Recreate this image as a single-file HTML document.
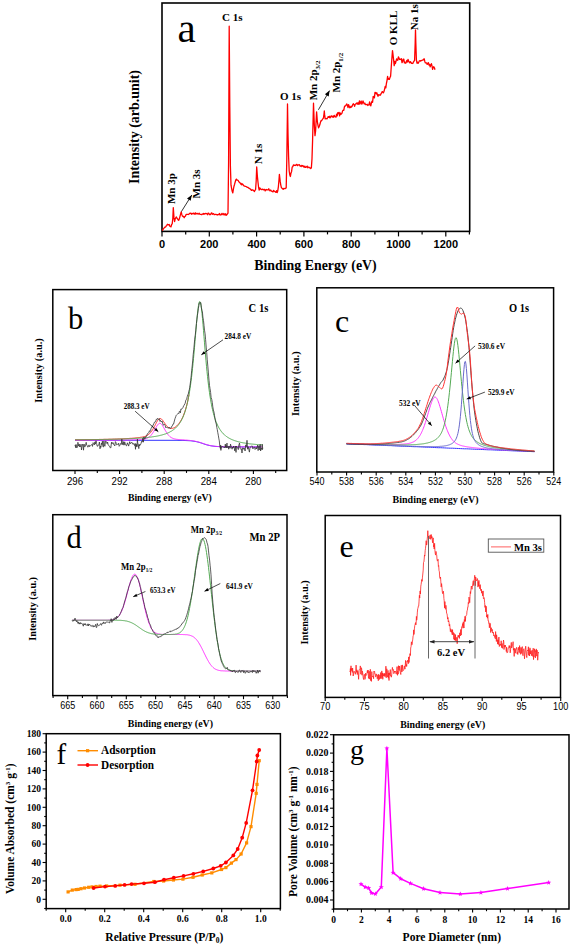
<!DOCTYPE html>
<html><head><meta charset="utf-8"><style>
html,body{margin:0;padding:0;background:#fff;width:572px;height:946px;overflow:hidden}
svg{display:block}
</style></head><body>
<svg width="572" height="946" viewBox="0 0 572 946">
<rect width="572" height="946" fill="#fff"/>
<rect x="162" y="3" width="307.7" height="228.4" fill="none" stroke="#000" stroke-width="1.6"/>
<line x1="162" y1="231.4" x2="162" y2="236.4" stroke="#000" stroke-width="1.2" />
<line x1="209.3" y1="231.4" x2="209.3" y2="236.4" stroke="#000" stroke-width="1.2" />
<line x1="256.6" y1="231.4" x2="256.6" y2="236.4" stroke="#000" stroke-width="1.2" />
<line x1="303.9" y1="231.4" x2="303.9" y2="236.4" stroke="#000" stroke-width="1.2" />
<line x1="351.2" y1="231.4" x2="351.2" y2="236.4" stroke="#000" stroke-width="1.2" />
<line x1="398.5" y1="231.4" x2="398.5" y2="236.4" stroke="#000" stroke-width="1.2" />
<line x1="445.8" y1="231.4" x2="445.8" y2="236.4" stroke="#000" stroke-width="1.2" />
<line x1="185.7" y1="231.4" x2="185.7" y2="234.4" stroke="#000" stroke-width="1.2" />
<line x1="232.9" y1="231.4" x2="232.9" y2="234.4" stroke="#000" stroke-width="1.2" />
<line x1="280.2" y1="231.4" x2="280.2" y2="234.4" stroke="#000" stroke-width="1.2" />
<line x1="327.5" y1="231.4" x2="327.5" y2="234.4" stroke="#000" stroke-width="1.2" />
<line x1="374.9" y1="231.4" x2="374.9" y2="234.4" stroke="#000" stroke-width="1.2" />
<line x1="422.1" y1="231.4" x2="422.1" y2="234.4" stroke="#000" stroke-width="1.2" />
<line x1="469.4" y1="231.4" x2="469.4" y2="234.4" stroke="#000" stroke-width="1.2" />
<text x="162" y="248" font-family='"Liberation Sans", sans-serif' font-size="11" font-weight="bold" text-anchor="middle" fill="#000" >0</text>
<text x="209.3" y="248" font-family='"Liberation Sans", sans-serif' font-size="11" font-weight="bold" text-anchor="middle" fill="#000" >200</text>
<text x="256.6" y="248" font-family='"Liberation Sans", sans-serif' font-size="11" font-weight="bold" text-anchor="middle" fill="#000" >400</text>
<text x="303.9" y="248" font-family='"Liberation Sans", sans-serif' font-size="11" font-weight="bold" text-anchor="middle" fill="#000" >600</text>
<text x="351.2" y="248" font-family='"Liberation Sans", sans-serif' font-size="11" font-weight="bold" text-anchor="middle" fill="#000" >800</text>
<text x="398.5" y="248" font-family='"Liberation Sans", sans-serif' font-size="11" font-weight="bold" text-anchor="middle" fill="#000" >1000</text>
<text x="445.8" y="248" font-family='"Liberation Sans", sans-serif' font-size="11" font-weight="bold" text-anchor="middle" fill="#000" >1200</text>
<text x="254.2" y="270" font-family='"Liberation Serif", serif' font-size="14" font-weight="bold" text-anchor="start" fill="#000" textLength="122.5" lengthAdjust="spacingAndGlyphs" >Binding Energy (eV)</text>
<text transform="translate(139.2,184) rotate(-90)" font-family='"Liberation Serif", serif' font-size="14" font-weight="bold" text-anchor="start" fill="#000" textLength="114" lengthAdjust="spacingAndGlyphs" >Intensity (arb.unit)</text>
<text x="177.6" y="41.6" font-family='"Liberation Serif", serif' font-size="41" font-weight="normal" text-anchor="start" fill="#000" >a</text>
<polyline points="162,230.3 162.6,230.1 163.2,229.1 163.8,228.5 164.4,227.5 165,227.1 165.6,227 166.2,225.9 166.8,225.4 167.4,224.3 168,224.6 168.6,224.9 169.2,224.5 169.8,226.2 170.4,226.5 171,226.9 171.6,224.5 172.2,223.9 172.8,218.6 173.3,207.6 173.4,209.1 174,217.9 174.6,221.5 175.2,218.9 175.8,217.7 176.4,217 177,218.3 177.6,218.9 178.2,220 178.8,220.3 179.4,218.6 180,216.3 180.6,214.1 181.2,211.9 181.2,211.9 181.8,214.4 182.4,216.1 183,216.6 183.6,216.4 184.2,217.7 184.8,216.5 185.4,216.2 186,214.7 186.6,214.4 187.2,214.4 187.8,214.3 188.4,214.5 189,214.1 189.6,213.6 190.2,213.1 190.8,213.4 191.4,214.2 192,213.3 192.6,213.8 193.2,213.9 193.8,213 194.4,213.8 195,214.4 195.6,212.8 196.2,213.6 196.8,213.8 197.4,213.4 198,214.1 198.6,213.8 199.2,213.2 199.8,214.3 200.4,214.3 201,214.4 201.6,214.7 202.2,214.2 202.8,214.1 203.4,213.4 204,214.3 204.6,213.7 205.2,213.8 205.8,213.4 206.4,213.6 207,213.8 207.6,214.7 208.2,213.1 208.8,213.4 209.4,214.2 210,214.8 210.6,214.4 211.2,213.2 211.8,212.9 212.4,214.3 213,213.8 213.6,213.6 214.2,214.7 214.8,214.7 215.4,214.3 216,214.3 216.6,214.5 217.2,215.1 217.8,214.6 218.4,214.5 219,214.6 219.6,213.5 220.2,215 220.8,214.8 221.4,214.6 222,213.4 222.6,214.1 223.2,214.8 223.8,213.5 224.4,214.3 225,215 225.6,213.8 226.2,215.3 226.8,214.8 227.4,213.9 228,213.2 228.6,161.8 229.2,26.2 229.2,26.2 229.8,106.7 230.4,166.2 231,185.2 231.6,188.4 232.2,191.3 232.8,192.9 233.4,189.1 234,186.2 234.6,184.2 235.2,182 235.8,179.9 236.4,179.1 237,180.2 237.6,180.2 238.2,180.5 238.8,181.7 239.4,182.2 240,182.7 240.6,184.1 241.2,183.4 241.8,184.9 242.4,183.9 243,184.5 243.6,185.5 244.2,186.1 244.8,186.2 245.4,186.3 246,186.5 246.6,186.8 247.2,187.4 247.8,187.3 248.4,187.9 249,188.3 249.6,188.4 250.2,189.1 250.8,189.4 251.4,190.4 252,189.9 252.6,189.9 253.2,190.2 253.8,190.7 254.4,191.5 255,190.4 255.6,189.5 256.2,180.8 256.7,167 256.8,168.4 257.4,176.6 258,182.2 258.6,187.5 259.2,190 259.8,187.8 260.4,188.6 261,189.4 261.6,189.5 262.2,189.5 262.8,189.2 263.4,189.8 264,189.7 264.6,189.4 265.2,190.9 265.8,189.9 266.4,189.5 267,189.8 267.6,189.8 268.2,190 268.8,188.8 269.4,190 270,190.9 270.6,190 271.2,190.7 271.8,191.3 272.4,191.4 273,191.9 273.6,190.4 274.2,191.2 274.8,191.4 275.4,192 276,192.4 276.6,190.6 277.2,192.6 277.8,190.7 278.4,186.6 279,179.7 279.4,174.4 279.6,176.1 280.2,181.4 280.8,185.1 281.4,187.6 282,188.2 282.6,188.9 283.2,189.3 283.8,188.5 284.4,188.5 285,188.7 285.6,188.2 286.2,188 286.8,159.5 287.4,113.2 287.5,104 288,134 288.6,156.7 289.2,171 289.8,174.8 290.4,176.5 291,172.9 291.6,171.4 292.2,167 292.8,166.7 293.4,164.9 294,165.1 294.6,165.4 295.2,165.2 295.8,165.5 296.4,164.5 297,164.5 297.6,165.6 298.2,164.9 298.8,164.9 299.4,164.7 300,166.1 300.6,166 301.2,166.5 301.8,165.4 302.4,166 303,165.6 303.6,166.7 304.2,167.2 304.8,166.1 305.4,167.4 306,167.3 306.6,166.8 307.2,166.1 307.8,167.9 308.4,167.2 309,167.1 309.6,167.8 310.2,167.9 310.8,168.6 311.4,167.4 312,158.7 312.6,140 313.2,115.5 313.5,103.2 313.8,111.4 314.4,126.5 315,135.7 315.6,131 316.2,119.5 316.6,111.8 316.8,114.4 317.4,122 318,125.4 318.6,127.8 319.2,126.4 319.8,124.8 320.4,122.5 321,120.6 321.6,120.8 322.2,119.7 322.8,118.9 323.4,118.2 324,114 324.3,111 324.6,114.4 325.2,118.9 325.8,118.7 326.4,118.5 327,118.9 327.6,117.8 328.2,116.6 328.8,117.3 329.4,116.3 330,117.9 330.6,117.1 331.2,115.9 331.8,116.3 332.4,117.1 333,116 333.6,117.2 334.2,115.4 334.8,116.5 335.4,116.9 336,117 336.6,114.2 337.2,115.9 337.8,112.7 338.4,113.5 339,112.4 339.6,115.8 340.2,113 340.8,114.3 341.4,114 342,113.1 342.6,110.9 343.2,110.2 343.8,110.4 344.4,106.8 345,105.8 345.6,105.8 346.2,104.8 346.8,104 347.4,105.2 348,107.5 348.6,104.7 349.2,106.2 349.8,107.8 350.4,107.4 351,106.3 351.6,107 352.2,106.1 352.8,104.4 353.4,103.8 354,104.6 354.6,106.3 355.2,104.4 355.8,103.8 356.4,103.8 357,102.7 357.6,104.2 358.2,102.8 358.8,104.3 359.4,101 360,103.9 360.6,102.6 361.2,101 361.8,104.1 362.4,103 363,100.9 363.6,102.5 364.2,103.9 364.8,103.1 365.4,104.6 366,104.6 366.6,104.6 367.2,104.3 367.8,105.5 368.4,104.8 369,104.7 369.6,101.8 370.2,105.3 370.8,105.9 371.4,103 372,101.1 372.6,102.3 373.2,96.4 373.8,97.3 374.4,97.9 375,92.4 375.6,92.6 376.2,93.8 376.8,92.7 377.4,94.7 378,96.3 378.6,94.6 379.2,95.1 379.8,95 380.4,95.2 381,93.7 381.6,93 382.2,91.6 382.8,91.9 383.4,92.8 384,91.4 384.6,89.1 385.2,86.5 385.8,87.9 386.4,83.5 387,80.6 387.6,76.3 388.2,79.4 388.8,78.7 389.4,79.4 390,77.4 390.6,76.2 391.2,67.7 391.8,59.5 392.4,51.9 392.5,50.6 393,54.7 393.6,59.8 394.2,65.6 394.8,61.5 395.4,63.6 396,61.4 396.6,58.9 397.2,60 397.8,60.3 398.4,56.9 399,58 399.6,59.4 400.2,59.5 400.8,59.1 401.4,58.7 402,62.6 402.6,61.6 403.2,59.2 403.8,59.2 404.4,62.9 405,62.2 405.6,63.3 406.2,62.3 406.8,60.5 407.4,62 408,59.3 408.6,61.1 409.2,62.1 409.8,62.9 410.4,61.6 411,62.4 411.6,63.3 412.2,63.3 412.8,63.5 413.4,62.1 414,61.1 414.6,60.3 415.2,42.7 415.5,29.8 415.8,42.3 416.4,60 417,63 417.6,62.3 418.2,63.3 418.8,62.1 419.4,60.8 420,60.7 420.6,61.1 421.2,60.6 421.8,60.6 422.4,60.1 423,60 423.6,59.3 424.2,58.8 424.8,61.4 425.4,62.9 426,62.9 426.6,62.9 427.2,64.4 427.8,63.2 428.4,62.6 429,65.2 429.6,64.5 430.2,66.8 430.8,65.1 431.4,63.7 432,65.9 432.6,69.3 433.2,67.4 433.8,66.7 434.4,67.8 435,69.7" fill="none" stroke="#FF0000" stroke-width="1.3" stroke-linejoin="round" />
<text x="222" y="21" font-family='"Liberation Serif", serif' font-size="11" font-weight="bold" text-anchor="start" fill="#000" >C 1s</text>
<text x="280" y="100.2" font-family='"Liberation Serif", serif' font-size="11" font-weight="bold" text-anchor="start" fill="#000" >O 1s</text>
<text transform="translate(262,164.2) rotate(-90)" font-family='"Liberation Serif", serif' font-size="11" font-weight="bold" text-anchor="start" fill="#000" >N 1s</text>
<text transform="translate(174.9,204.1) rotate(-90)" font-family='"Liberation Serif", serif' font-size="11" font-weight="bold" text-anchor="start" fill="#000" >Mn 3p</text>
<text transform="translate(200.2,198.5) rotate(-90)" font-family='"Liberation Serif", serif' font-size="11" font-weight="bold" text-anchor="start" fill="#000" >Mn 3s</text>
<text transform="translate(396.5,45.2) rotate(-90)" font-family='"Liberation Serif", serif' font-size="11" font-weight="bold" text-anchor="start" fill="#000" >O KLL</text>
<text transform="translate(417.6,30.2) rotate(-90)" font-family='"Liberation Serif", serif' font-size="11" font-weight="bold" text-anchor="start" fill="#000" >Na 1s</text>
<text transform="translate(317.3,100.3) rotate(-90)" font-family='"Liberation Serif", serif' font-size="11" font-weight="bold">Mn 2p<tspan font-size="7" dy="2.6">3/2</tspan></text>
<text transform="translate(340.4,92.5) rotate(-90)" font-family='"Liberation Serif", serif' font-size="11" font-weight="bold">Mn 2p<tspan font-size="7" dy="2.6">1/2</tspan></text>
<line x1="181.4" y1="211.6" x2="191.8" y2="195" stroke="#000" stroke-width="0.8" />
<polygon points="191.8,195 190.7,200.8 187,198.5" fill="#000"/>
<line x1="318.4" y1="109.8" x2="329.6" y2="90.6" stroke="#000" stroke-width="0.8" />
<polygon points="329.6,90.6 328.7,96.5 324.9,94.2" fill="#000"/>
<line x1="75" y1="470.5" x2="75" y2="474.1" stroke="#000" stroke-width="1.1" />
<line x1="119.6" y1="470.5" x2="119.6" y2="474.1" stroke="#000" stroke-width="1.1" />
<line x1="164.2" y1="470.5" x2="164.2" y2="474.1" stroke="#000" stroke-width="1.1" />
<line x1="208.8" y1="470.5" x2="208.8" y2="474.1" stroke="#000" stroke-width="1.1" />
<line x1="253.4" y1="470.5" x2="253.4" y2="474.1" stroke="#000" stroke-width="1.1" />
<line x1="97.3" y1="470.5" x2="97.3" y2="472.9" stroke="#000" stroke-width="1.1" />
<line x1="141.9" y1="470.5" x2="141.9" y2="472.9" stroke="#000" stroke-width="1.1" />
<line x1="186.5" y1="470.5" x2="186.5" y2="472.9" stroke="#000" stroke-width="1.1" />
<line x1="231.1" y1="470.5" x2="231.1" y2="472.9" stroke="#000" stroke-width="1.1" />
<line x1="275.7" y1="470.5" x2="275.7" y2="472.9" stroke="#000" stroke-width="1.1" />
<text x="75" y="484.5" font-family='"Liberation Sans", sans-serif' font-size="10" font-weight="normal" text-anchor="middle" fill="#000" textLength="16.2" lengthAdjust="spacingAndGlyphs" >296</text>
<text x="119.6" y="484.5" font-family='"Liberation Sans", sans-serif' font-size="10" font-weight="normal" text-anchor="middle" fill="#000" textLength="16.2" lengthAdjust="spacingAndGlyphs" >292</text>
<text x="164.2" y="484.5" font-family='"Liberation Sans", sans-serif' font-size="10" font-weight="normal" text-anchor="middle" fill="#000" textLength="16.2" lengthAdjust="spacingAndGlyphs" >288</text>
<text x="208.8" y="484.5" font-family='"Liberation Sans", sans-serif' font-size="10" font-weight="normal" text-anchor="middle" fill="#000" textLength="16.2" lengthAdjust="spacingAndGlyphs" >284</text>
<text x="253.4" y="484.5" font-family='"Liberation Sans", sans-serif' font-size="10" font-weight="normal" text-anchor="middle" fill="#000" textLength="16.2" lengthAdjust="spacingAndGlyphs" >280</text>
<text x="127.9" y="501.1" font-family='"Liberation Serif", serif' font-size="11" font-weight="bold" text-anchor="start" fill="#000" textLength="83.9" lengthAdjust="spacingAndGlyphs" >Binding energy (eV)</text>
<text transform="translate(42.2,402.8) rotate(-90)" font-family='"Liberation Serif", serif' font-size="10.5" font-weight="bold" text-anchor="start" fill="#000" textLength="64.6" lengthAdjust="spacingAndGlyphs" >Intensity (a.u.)</text>
<text x="68" y="328.6" font-family='"Liberation Serif", serif' font-size="30.5" font-weight="normal" text-anchor="start" fill="#000" >b</text>
<text x="248.6" y="312.2" font-family='"Liberation Serif", serif' font-size="12" font-weight="bold" text-anchor="start" fill="#000" textLength="19.8" lengthAdjust="spacingAndGlyphs" >C 1s</text>
<polyline points="75,440.3 77,440.3 79,440.3 81,440.3 83,440.3 85,440.3 87,440.3 89,440.3 91,440.3 93,440.3 95,440.3 97,440.3 99,440.3 101,440.3 103,440.3 105,440.3 107,440.3 109,440.3 111,440.3 113,440.3 115,440.3 117,440.3 119,440.3 121,440.3 123,440.3 125,440.3 127,440.3 129,440.3 131,440.3 133,440.3 135,440.3 137,440.3 139,440.3 141,440.3 143,440.3 145,440.3 147,440.3 149,440.3 151,440.3 153,440.3 155,440.3 157,440.3 159,440.3 161,440.3 163,440.3 165,440.3 167,440.3 169,440.3 171,440.3 173,440.3 175,440.3 177,440.3 179,440.4 181,440.4 183,440.4 185,440.5 187,440.6 189,440.7 191,440.8 193,441.1 195,441.4 197,441.8 199,442.3 201,442.9 203,443.6 205,444.3 207,444.9 209,445.4 211,445.8 213,446.1 215,446.4 217,446.5 219,446.6 221,446.7 223,446.8 225,446.8 227,446.8 229,446.9 231,446.9 233,446.9 235,446.9 237,446.9 239,446.9 241,446.9 243,446.9 245,446.9 247,446.9 249,446.9 251,446.9 253,446.9 255,446.9 257,446.9 259,446.9 261,446.9" fill="none" stroke="#3333FF" stroke-width="1.0" stroke-linejoin="round" />
<polyline points="75,440.3 75.5,440.3 76,440.3 76.5,440.3 77,440.3 77.5,440.3 78,440.3 78.5,440.3 79,440.3 79.5,440.3 80,440.3 80.5,440.3 81,440.3 81.5,440.3 82,440.3 82.5,440.2 83,440.2 83.5,440.2 84,440.2 84.5,440.2 85,440.2 85.5,440.2 86,440.2 86.5,440.2 87,440.2 87.5,440.2 88,440.2 88.5,440.2 89,440.2 89.5,440.2 90,440.2 90.5,440.2 91,440.2 91.5,440.2 92,440.2 92.5,440.2 93,440.2 93.5,440.2 94,440.2 94.5,440.2 95,440.2 95.5,440.2 96,440.2 96.5,440.2 97,440.2 97.5,440.2 98,440.2 98.5,440.2 99,440.2 99.5,440.2 100,440.2 100.5,440.2 101,440.2 101.5,440.2 102,440.2 102.5,440.2 103,440.2 103.5,440.2 104,440.2 104.5,440.2 105,440.2 105.5,440.2 106,440.2 106.5,440.2 107,440.2 107.5,440.2 108,440.2 108.5,440.2 109,440.2 109.5,440.2 110,440.2 110.5,440.2 111,440.2 111.5,440.2 112,440.2 112.5,440.2 113,440.2 113.5,440.2 114,440.2 114.5,440.2 115,440.2 115.5,440.1 116,440.1 116.5,440.1 117,440.1 117.5,440.1 118,440.1 118.5,440.1 119,440.1 119.5,440.1 120,440.1 120.5,440.1 121,440.1 121.5,440.1 122,440.1 122.5,440.1 123,440.1 123.5,440.1 124,440.1 124.5,440.1 125,440.1 125.5,440.1 126,440 126.5,440 127,440 127.5,440 128,440 128.5,440 129,440 129.5,440 130,440 130.5,440 131,440 131.5,439.9 132,439.9 132.5,439.9 133,439.9 133.5,439.9 134,439.9 134.5,439.9 135,439.8 135.5,439.8 136,439.8 136.5,439.8 137,439.8 137.5,439.7 138,439.7 138.5,439.7 139,439.7 139.5,439.6 140,439.6 140.5,439.5 141,439.5 141.5,439.5 142,439.4 142.5,439.4 143,439.3 143.5,439.2 144,439.1 144.5,439 145,438.9 145.5,438.8 146,438.6 146.5,438.5 147,438.3 147.5,438 148,437.8 148.5,437.5 149,437.1 149.5,436.8 150,436.3 150.5,435.8 151,435.3 151.5,434.7 152,434 152.5,433.3 153,432.6 153.5,431.8 154,431 154.5,430.1 155,429.2 155.5,428.3 156,427.4 156.5,426.6 157,425.8 157.5,425 158,424.4 158.5,423.9 159,423.5 159.5,423.3 160,423.3 160.5,423.5 161,423.8 161.5,424.3 162,424.9 162.5,425.6 163,426.4 163.5,427.3 164,428.1 164.5,429 165,429.9 165.5,430.8 166,431.6 166.5,432.4 167,433.2 167.5,433.9 168,434.6 168.5,435.2 169,435.7 169.5,436.2 170,436.7 170.5,437.1 171,437.4 171.5,437.7 172,438 172.5,438.2 173,438.5 173.5,438.6 174,438.8 174.5,438.9 175,439 175.5,439.1 176,439.2 176.5,439.3 177,439.4 177.5,439.4 178,439.5 178.5,439.5 179,439.6 179.5,439.6 180,439.7 180.5,439.7 181,439.8 181.5,439.8 182,439.8 182.5,439.9 183,439.9 183.5,439.9 184,440 184.5,440 185,440 185.5,440.1 186,440.1 186.5,440.1 187,440.2 187.5,440.2 188,440.2 188.5,440.3 189,440.3 189.5,440.4 190,440.4 190.5,440.5 191,440.5 191.5,440.6 192,440.7 192.5,440.7 193,440.8 193.5,440.9 194,441 194.5,441.1 195,441.2 195.5,441.3 196,441.4 196.5,441.5 197,441.6 197.5,441.7 198,441.9 198.5,442 199,442.2 199.5,442.3 200,442.5 200.5,442.6 201,442.8 201.5,442.9 202,443.1 202.5,443.3 203,443.4 203.5,443.6 204,443.8 204.5,443.9 205,444.1 205.5,444.3 206,444.4 206.5,444.6 207,444.7 207.5,444.9 208,445 208.5,445.1 209,445.2 209.5,445.4 210,445.5 210.5,445.6 211,445.7 211.5,445.8 212,445.9 212.5,445.9 213,446 213.5,446.1 214,446.1 214.5,446.2 215,446.3 215.5,446.3 216,446.3 216.5,446.4 217,446.4 217.5,446.5 218,446.5 218.5,446.5 219,446.6 219.5,446.6 220,446.6 220.5,446.6 221,446.6 221.5,446.7 222,446.7 222.5,446.7 223,446.7 223.5,446.7 224,446.7 224.5,446.7 225,446.7 225.5,446.8 226,446.8 226.5,446.8 227,446.8 227.5,446.8 228,446.8 228.5,446.8 229,446.8 229.5,446.8 230,446.8 230.5,446.8 231,446.8 231.5,446.8 232,446.8 232.5,446.8 233,446.8 233.5,446.8 234,446.8 234.5,446.8 235,446.8 235.5,446.8 236,446.8 236.5,446.8 237,446.8 237.5,446.8 238,446.8 238.5,446.8 239,446.8 239.5,446.8 240,446.8 240.5,446.9 241,446.9 241.5,446.9 242,446.9 242.5,446.9 243,446.9 243.5,446.9 244,446.9 244.5,446.9 245,446.9 245.5,446.9 246,446.9 246.5,446.9 247,446.9 247.5,446.9 248,446.9 248.5,446.9 249,446.9 249.5,446.9 250,446.9 250.5,446.9 251,446.9 251.5,446.9 252,446.9 252.5,446.9 253,446.9 253.5,446.9 254,446.9 254.5,446.9 255,446.9 255.5,446.9 256,446.9 256.5,446.9 257,446.9 257.5,446.9 258,446.9 258.5,446.9 259,446.9 259.5,446.9 260,446.9 260.5,446.9 261,446.9 261.5,446.9 262,446.9 262.5,446.9" fill="none" stroke="#FF33FF" stroke-width="1.0" stroke-linejoin="round" />
<polyline points="75,439.8 75.5,439.7 76,439.7 76.5,439.7 77,439.7 77.5,439.7 78,439.7 78.5,439.7 79,439.7 79.5,439.7 80,439.7 80.5,439.7 81,439.7 81.5,439.7 82,439.7 82.5,439.7 83,439.7 83.5,439.7 84,439.7 84.5,439.7 85,439.6 85.5,439.6 86,439.6 86.5,439.6 87,439.6 87.5,439.6 88,439.6 88.5,439.6 89,439.6 89.5,439.6 90,439.6 90.5,439.6 91,439.6 91.5,439.6 92,439.6 92.5,439.5 93,439.5 93.5,439.5 94,439.5 94.5,439.5 95,439.5 95.5,439.5 96,439.5 96.5,439.5 97,439.5 97.5,439.5 98,439.5 98.5,439.5 99,439.4 99.5,439.4 100,439.4 100.5,439.4 101,439.4 101.5,439.4 102,439.4 102.5,439.4 103,439.4 103.5,439.4 104,439.3 104.5,439.3 105,439.3 105.5,439.3 106,439.3 106.5,439.3 107,439.3 107.5,439.3 108,439.3 108.5,439.2 109,439.2 109.5,439.2 110,439.2 110.5,439.2 111,439.2 111.5,439.2 112,439.1 112.5,439.1 113,439.1 113.5,439.1 114,439.1 114.5,439.1 115,439.1 115.5,439 116,439 116.5,439 117,439 117.5,439 118,439 118.5,438.9 119,438.9 119.5,438.9 120,438.9 120.5,438.9 121,438.8 121.5,438.8 122,438.8 122.5,438.8 123,438.8 123.5,438.7 124,438.7 124.5,438.7 125,438.7 125.5,438.6 126,438.6 126.5,438.6 127,438.5 127.5,438.5 128,438.5 128.5,438.5 129,438.4 129.5,438.4 130,438.4 130.5,438.3 131,438.3 131.5,438.3 132,438.2 132.5,438.2 133,438.1 133.5,438.1 134,438.1 134.5,438 135,438 135.5,437.9 136,437.9 136.5,437.8 137,437.8 137.5,437.7 138,437.7 138.5,437.6 139,437.5 139.5,437.5 140,437.4 140.5,437.3 141,437.3 141.5,437.2 142,437.1 142.5,437 143,436.9 143.5,436.8 144,436.6 144.5,436.5 145,436.3 145.5,436.2 146,436 146.5,435.7 147,435.5 147.5,435.2 148,434.9 148.5,434.5 149,434.1 149.5,433.7 150,433.2 150.5,432.6 151,432 151.5,431.4 152,430.7 152.5,429.9 153,429.1 153.5,428.2 154,427.3 154.5,426.3 155,425.4 155.5,424.4 156,423.4 156.5,422.5 157,421.6 157.5,420.7 158,420 158.5,419.4 159,418.9 159.5,418.6 160,418.5 160.5,418.5 161,418.7 161.5,419.1 162,419.6 162.5,420.1 163,420.8 163.5,421.5 164,422.2 164.5,422.9 165,423.7 165.5,424.4 166,425 166.5,425.6 167,426.2 167.5,426.7 168,427.1 168.5,427.5 169,427.8 169.5,428.1 170,428.3 170.5,428.4 171,428.5 171.5,428.5 172,428.4 172.5,428.3 173,428.2 173.5,428 174,427.8 174.5,427.5 175,427.2 175.5,426.9 176,426.5 176.5,426.1 177,425.6 177.5,425.1 178,424.6 178.5,424 179,423.4 179.5,422.7 180,422 180.5,421.2 181,420.4 181.5,419.5 182,418.6 182.5,417.6 183,416.5 183.5,415.3 184,414 184.5,412.7 185,411.2 185.5,409.6 186,407.9 186.5,406.1 187,404.1 187.5,402 188,399.7 188.5,397.2 189,394.5" fill="none" stroke="#FF3333" stroke-width="1.0" stroke-linejoin="round" />
<polyline points="75,439.8 75.5,439.8 76,439.8 76.5,439.8 77,439.8 77.5,439.8 78,439.8 78.5,439.8 79,439.8 79.5,439.8 80,439.7 80.5,439.7 81,439.7 81.5,439.7 82,439.7 82.5,439.7 83,439.7 83.5,439.7 84,439.7 84.5,439.7 85,439.7 85.5,439.7 86,439.7 86.5,439.7 87,439.7 87.5,439.7 88,439.7 88.5,439.7 89,439.7 89.5,439.7 90,439.6 90.5,439.6 91,439.6 91.5,439.6 92,439.6 92.5,439.6 93,439.6 93.5,439.6 94,439.6 94.5,439.6 95,439.6 95.5,439.6 96,439.6 96.5,439.6 97,439.6 97.5,439.5 98,439.5 98.5,439.5 99,439.5 99.5,439.5 100,439.5 100.5,439.5 101,439.5 101.5,439.5 102,439.5 102.5,439.5 103,439.5 103.5,439.4 104,439.4 104.5,439.4 105,439.4 105.5,439.4 106,439.4 106.5,439.4 107,439.4 107.5,439.4 108,439.4 108.5,439.4 109,439.3 109.5,439.3 110,439.3 110.5,439.3 111,439.3 111.5,439.3 112,439.3 112.5,439.3 113,439.3 113.5,439.2 114,439.2 114.5,439.2 115,439.2 115.5,439.2 116,439.2 116.5,439.2 117,439.2 117.5,439.1 118,439.1 118.5,439.1 119,439.1 119.5,439.1 120,439.1 120.5,439 121,439 121.5,439 122,439 122.5,439 123,439 123.5,439 124,438.9 124.5,438.9 125,438.9 125.5,438.9 126,438.9 126.5,438.8 127,438.8 127.5,438.8 128,438.8 128.5,438.8 129,438.7 129.5,438.7 130,438.7 130.5,438.7 131,438.6 131.5,438.6 132,438.6 132.5,438.6 133,438.5 133.5,438.5 134,438.5 134.5,438.5 135,438.4 135.5,438.4 136,438.4 136.5,438.3 137,438.3 137.5,438.3 138,438.3 138.5,438.2 139,438.2 139.5,438.2 140,438.1 140.5,438.1 141,438 141.5,438 142,438 142.5,437.9 143,437.9 143.5,437.8 144,437.8 144.5,437.8 145,437.7 145.5,437.7 146,437.6 146.5,437.6 147,437.5 147.5,437.5 148,437.4 148.5,437.3 149,437.3 149.5,437.2 150,437.2 150.5,437.1 151,437 151.5,437 152,436.9 152.5,436.8 153,436.8 153.5,436.7 154,436.6 154.5,436.5 155,436.5 155.5,436.4 156,436.3 156.5,436.2 157,436.1 157.5,436 158,435.9 158.5,435.8 159,435.7 159.5,435.6 160,435.5 160.5,435.3 161,435.2 161.5,435.1 162,435 162.5,434.8 163,434.7 163.5,434.5 164,434.4 164.5,434.2 165,434 165.5,433.9 166,433.7 166.5,433.5 167,433.3 167.5,433.1 168,432.9 168.5,432.7 169,432.4 169.5,432.2 170,431.9 170.5,431.6 171,431.4 171.5,431.1 172,430.7 172.5,430.4 173,430.1 173.5,429.7 174,429.3 174.5,428.9 175,428.5 175.5,428.1 176,427.6 176.5,427.1 177,426.6 177.5,426 178,425.4 178.5,424.8 179,424.1 179.5,423.4 180,422.7 180.5,421.9 181,421 181.5,420.1 182,419.1 182.5,418.1 183,417 183.5,415.8 184,414.5 184.5,413.1 185,411.7 185.5,410.1 186,408.4 186.5,406.5 187,404.5 187.5,402.4 188,400 188.5,397.5 189,394.8 189.5,391.9 190,388.7 190.5,385.2 191,381.5 191.5,377.5 192,373.2 192.5,368.6 193,363.7 193.5,358.5 194,353 194.5,347.3 195,341.4 195.5,335.4 196,329.4 196.5,323.6 197,318.1 197.5,313.1 198,308.8 198.5,305.3 199,302.9 199.5,301.7 200,301.7 200.5,303 201,305.5 201.5,309 202,313.4 202.5,318.6 203,324.3 203.5,330.4 204,336.6 204.5,342.8 205,349 205.5,355 206,360.8 206.5,366.3 207,371.5 207.5,376.3 208,380.9 208.5,385.1 209,389.1 209.5,392.7 210,396.1 210.5,399.2 211,402.1 211.5,404.8 212,407.3 212.5,409.6 213,411.7 213.5,413.7 214,415.5 214.5,417.2 215,418.7 215.5,420.2 216,421.6 216.5,422.8 217,424 217.5,425.1 218,426.1 218.5,427.1 219,428 219.5,428.8 220,429.6 220.5,430.3 221,431 221.5,431.7 222,432.3 222.5,432.9 223,433.4 223.5,434 224,434.4 224.5,434.9 225,435.3 225.5,435.8 226,436.2 226.5,436.5 227,436.9 227.5,437.2 228,437.5 228.5,437.8 229,438.1 229.5,438.4 230,438.7 230.5,438.9 231,439.2 231.5,439.4 232,439.6 232.5,439.8 233,440 233.5,440.2 234,440.4 234.5,440.6 235,440.8 235.5,440.9 236,441.1 236.5,441.2 237,441.4 237.5,441.5 238,441.7 238.5,441.8 239,441.9 239.5,442 240,442.2 240.5,442.3 241,442.4 241.5,442.5 242,442.6 242.5,442.7 243,442.8 243.5,442.9 244,443 244.5,443 245,443.1 245.5,443.2 246,443.3 246.5,443.4 247,443.4 247.5,443.5 248,443.6 248.5,443.6 249,443.7 249.5,443.8 250,443.8 250.5,443.9 251,443.9 251.5,444 252,444 252.5,444.1 253,444.2 253.5,444.2 254,444.3 254.5,444.3 255,444.3 255.5,444.4 256,444.4 256.5,444.5 257,444.5 257.5,444.6 258,444.6 258.5,444.6 259,444.7 259.5,444.7 260,444.7 260.5,444.8 261,444.8 261.5,444.8 262,444.9 262.5,444.9" fill="none" stroke="#55AA55" stroke-width="1.0" stroke-linejoin="round" />
<polyline points="75,445.5 75.3,444.9 75.5,447.6 75.8,446 76.1,444.5 76.5,445.8 76.8,448 77.2,446.6 77.5,446.7 77.9,442.3 78.3,444.3 78.7,446.1 79.2,444 79.6,446.9 80,445.9 80.5,446.6 81,444.2 81.5,450 81.9,447.3 82.5,444.2 83,444.9 83.5,450.2 84,444 84.5,446.6 85.1,446.8 85.6,444.8 86.2,442.3 86.7,445.2 87.3,445.6 87.9,447.2 88.4,446.5 89,444.9 89.6,446.7 90.2,446 90.8,445.3 91.3,445 91.9,444.4 92.5,446.4 93.1,442.7 93.7,443.6 94.3,445 94.9,441.9 95.4,444.1 96,440.8 96.6,443.5 97.2,446.2 97.8,446.2 98.3,444.9 98.9,444.5 99.4,442 100,448.8 100.5,446.1 100.9,447.3 101.4,443.1 101.9,444.6 102.4,441.2 102.9,446.6 103.4,447 103.9,441 104.4,444.9 104.9,446.3 105.5,441.3 106,441.1 106.5,442.7 107.1,443.7 107.6,442 108.2,445 108.7,445.5 109.3,446.3 109.8,446.4 110.4,448.1 110.9,447.4 111.5,442.2 112,443.9 112.6,442.7 113.2,442.7 113.7,444.7 114.3,444.9 114.8,445.9 115.4,441.6 115.9,442.3 116.5,444.8 117,444.4 117.6,444.2 118.1,444.7 118.7,443.2 119.2,446.3 119.7,445.6 120.3,444.6 120.8,443.4 121.3,444.4 121.8,439.1 122.3,442.7 122.8,444.8 123.3,441.6 123.8,445.1 124.3,445 124.7,441.8 125.2,444.2 125.7,444 126.1,445.6 126.5,445.9 127,444.5 127.4,442.8 127.8,444.3 128.2,444.4 128.6,446.1 128.9,445.2 129.3,443 129.7,441.7 130,443.7 131,442.9 131.8,442.1 132.6,444.2 133.3,443.4 133.9,444.6 134.5,445.5 135,443.5 135.5,449.3 135.9,443.7 136.3,446.7 136.7,444.6 137.1,446.6 137.4,439.2 137.7,442.6 138.1,444.6 138.4,445.2 138.8,448.6 139.1,444.2 139.6,446 140,444.6 140.6,444.6 141.1,443.2 141.7,441.3 142.2,442.1 142.8,438.2 143.4,442.2 143.9,436.9 144.5,438.9 145,439.1 145.5,436.8 146,436.2 146.5,436.3 147,434.8 147.5,433.6 147.9,433.7 148.3,433.3 148.7,432.9 149.5,430.7 150.1,431.5 150.6,430.6 151,428.6 151.5,428 151.9,426.6 152.5,427 153,424.8 153.4,424.9 154,423.2 154.5,422.1 155,422.2 155.6,421.8 156.1,420 156.6,418.9 157.1,419.4 157.5,418.5 158.1,418.5 158.6,419.4 159,419.5 159.5,418.8 159.9,421.3 160.4,420.4 161,421.6 161.5,421 161.9,422.1 162.4,421.6 163,424.8 163.5,425.2 164,424.1 164.6,424.6 165.1,425.2 165.7,427.6 166.2,426.9 166.7,427.5 167.3,427.6 167.8,428 168.3,427.5 168.8,428.4 169.4,427.4 169.9,428.2 170.4,428.3 171,428 171.5,427 172,425.8 172.5,425.6 173.1,423.9 173.6,424 174.1,422 174.6,420 175.1,418.3 175.7,416.8 176.2,415.4 176.7,414.8 177.2,414.4 177.8,413.8 178.3,413.3 178.8,413.8 179.3,411.4 179.9,411.4 180.4,412.8 180.9,409 181.5,409.2 182,408.9 182.5,408 183.1,407.3 183.6,405.8 184.2,405.2 184.7,403.9 185.2,403.3 185.8,400.2 186.3,399.6 186.7,398.9 187.2,396.8 187.8,394.8 188.3,394.1 188.8,391.2 189.3,389.9 189.7,387.4 190.2,384 190.7,380.4 191.2,375.9 191.7,370.3 192.2,366 192.7,360.9 193.2,354.6 193.8,349.4 194.2,344.9 194.7,339.2 195.3,334.7 195.8,330.2 196.4,323.6 196.9,319.5 197.4,315.3 197.8,313.1 198.4,308.2 198.9,305.7 199.3,302.9 199.8,302.6 200.3,302.7 200.8,302.6 201.3,307.2 202,310.6 202.4,311.8 202.9,317.1 203.5,320.6 204,325.4 204.5,330.1 205.1,333.8 205.6,339.7 206.2,347.1 206.7,352.4 207.2,359.2 207.8,366 208.4,372.9 209,380.2 209.5,385.4 210,388.6 210.6,392.4 211.1,397.5 211.7,399.2 212.3,402.5 212.8,406.8 213.4,410.1 214,412.2 214.5,415.3 215.1,419.3 215.7,422.3 216.3,424 216.8,427.4 217.3,429.7 217.8,432.7 218.4,435.8 218.9,438.9 219.3,440.9 219.8,446.1 220.4,448.5 220.6,445.5 220.7,448.5 220.6,445.4 220.5,447.3 220.6,448.8 220.9,450.4 221.7,446.3 223,447 225,447.6 225.3,444.1 225.6,447.3 225.9,445.8 226.3,448 226.6,444.9 227,443.1 227.4,447.4 227.8,447.8 228.2,446.2 228.7,449.2 229.1,446.8 229.6,446.1 230.1,448.3 230.5,444.1 231,445.9 231.5,447.3 232.1,449.2 232.6,447 233.1,448 233.7,446 234.2,448 234.8,450.9 235.4,446 236,452.4 236.5,446.1 237.1,447.5 237.7,447.8 238.3,449.6 238.9,444.9 239.5,443.1 240.2,448.7 240.8,449.1 241.4,448.8 242,453 242.6,447.9 243.3,448 243.9,449.4 244.5,448.3 245.1,451 245.7,444.9 246.4,446.7 247,440.3 247.6,449.2 248.2,446.7 248.8,449.5 249.4,452.1 250,447.5 250.6,447 251.2,446.5 251.8,445.8 252.3,446.2 252.9,448.9 253.5,447.6 254,447.7 254.6,447.2 255.1,449.5 255.6,448.6 256.1,447.3 256.6,449 257.1,447.2 257.6,445.1 258.1,450.6 258.5,448.5 259,445.6 259.4,449.8 259.8,448.3 260.2,444.3 260.6,451 261,448.3 261.3,449.5 261.6,448 262,447.3 262.3,444.3 262.5,449.6 262.8,447.7" fill="none" stroke="#333333" stroke-width="0.8" stroke-linejoin="round" />
<text x="123.7" y="409.4" font-family='"Liberation Serif", serif' font-size="8" font-weight="bold" text-anchor="start" fill="#000" textLength="25.8" lengthAdjust="spacingAndGlyphs" >288.3 eV</text>
<line x1="135.1" y1="411.2" x2="158.3" y2="431.7" stroke="#000" stroke-width="0.7" />
<polygon points="158.3,431.7 154.2,430.3 156.4,427.9" fill="#000"/>
<text x="224.6" y="339.2" font-family='"Liberation Serif", serif' font-size="8" font-weight="bold" text-anchor="start" fill="#000" textLength="26.6" lengthAdjust="spacingAndGlyphs" >284.8 eV</text>
<line x1="223" y1="339.8" x2="201.3" y2="354.8" stroke="#000" stroke-width="0.7" />
<polygon points="201.3,354.8 203.7,351.2 205.5,353.8" fill="#000"/>
<rect x="52.8" y="289.6" width="233.9" height="180.9" fill="none" stroke="#000" stroke-width="1.5"/>
<line x1="317" y1="472" x2="317" y2="475.6" stroke="#000" stroke-width="1.1" />
<line x1="346.6" y1="472" x2="346.6" y2="475.6" stroke="#000" stroke-width="1.1" />
<line x1="376.2" y1="472" x2="376.2" y2="475.6" stroke="#000" stroke-width="1.1" />
<line x1="405.8" y1="472" x2="405.8" y2="475.6" stroke="#000" stroke-width="1.1" />
<line x1="435.4" y1="472" x2="435.4" y2="475.6" stroke="#000" stroke-width="1.1" />
<line x1="465" y1="472" x2="465" y2="475.6" stroke="#000" stroke-width="1.1" />
<line x1="494.6" y1="472" x2="494.6" y2="475.6" stroke="#000" stroke-width="1.1" />
<line x1="524.2" y1="472" x2="524.2" y2="475.6" stroke="#000" stroke-width="1.1" />
<line x1="553.8" y1="472" x2="553.8" y2="475.6" stroke="#000" stroke-width="1.1" />
<line x1="331.8" y1="472" x2="331.8" y2="474.4" stroke="#000" stroke-width="1.1" />
<line x1="361.4" y1="472" x2="361.4" y2="474.4" stroke="#000" stroke-width="1.1" />
<line x1="391" y1="472" x2="391" y2="474.4" stroke="#000" stroke-width="1.1" />
<line x1="420.6" y1="472" x2="420.6" y2="474.4" stroke="#000" stroke-width="1.1" />
<line x1="450.2" y1="472" x2="450.2" y2="474.4" stroke="#000" stroke-width="1.1" />
<line x1="479.8" y1="472" x2="479.8" y2="474.4" stroke="#000" stroke-width="1.1" />
<line x1="509.4" y1="472" x2="509.4" y2="474.4" stroke="#000" stroke-width="1.1" />
<line x1="539" y1="472" x2="539" y2="474.4" stroke="#000" stroke-width="1.1" />
<text x="317" y="485" font-family='"Liberation Sans", sans-serif' font-size="10" font-weight="normal" text-anchor="middle" fill="#000" textLength="15" lengthAdjust="spacingAndGlyphs" >540</text>
<text x="346.6" y="485" font-family='"Liberation Sans", sans-serif' font-size="10" font-weight="normal" text-anchor="middle" fill="#000" textLength="15" lengthAdjust="spacingAndGlyphs" >538</text>
<text x="376.2" y="485" font-family='"Liberation Sans", sans-serif' font-size="10" font-weight="normal" text-anchor="middle" fill="#000" textLength="15" lengthAdjust="spacingAndGlyphs" >536</text>
<text x="405.8" y="485" font-family='"Liberation Sans", sans-serif' font-size="10" font-weight="normal" text-anchor="middle" fill="#000" textLength="15" lengthAdjust="spacingAndGlyphs" >534</text>
<text x="435.4" y="485" font-family='"Liberation Sans", sans-serif' font-size="10" font-weight="normal" text-anchor="middle" fill="#000" textLength="15" lengthAdjust="spacingAndGlyphs" >532</text>
<text x="465" y="485" font-family='"Liberation Sans", sans-serif' font-size="10" font-weight="normal" text-anchor="middle" fill="#000" textLength="15" lengthAdjust="spacingAndGlyphs" >530</text>
<text x="494.6" y="485" font-family='"Liberation Sans", sans-serif' font-size="10" font-weight="normal" text-anchor="middle" fill="#000" textLength="15" lengthAdjust="spacingAndGlyphs" >528</text>
<text x="524.2" y="485" font-family='"Liberation Sans", sans-serif' font-size="10" font-weight="normal" text-anchor="middle" fill="#000" textLength="15" lengthAdjust="spacingAndGlyphs" >526</text>
<text x="553.8" y="485" font-family='"Liberation Sans", sans-serif' font-size="10" font-weight="normal" text-anchor="middle" fill="#000" textLength="15" lengthAdjust="spacingAndGlyphs" >524</text>
<text x="392.6" y="503" font-family='"Liberation Serif", serif' font-size="11" font-weight="bold" text-anchor="start" fill="#000" textLength="86" lengthAdjust="spacingAndGlyphs" >Binding energy (eV)</text>
<text transform="translate(299.2,416) rotate(-90)" font-family='"Liberation Serif", serif' font-size="10.5" font-weight="bold" text-anchor="start" fill="#000" textLength="64.6" lengthAdjust="spacingAndGlyphs" >Intensity (a.u.)</text>
<text x="335" y="331.5" font-family='"Liberation Serif", serif' font-size="32" font-weight="normal" text-anchor="start" fill="#000" >c</text>
<text x="509" y="312.2" font-family='"Liberation Serif", serif' font-size="12" font-weight="bold" text-anchor="start" fill="#000" textLength="20" lengthAdjust="spacingAndGlyphs" >O 1s</text>
<polyline points="346.4,443.8 348.4,443.9 350.4,444 352.4,444.1 354.4,444.1 356.4,444.2 358.4,444.3 360.4,444.4 362.4,444.5 364.4,444.6 366.4,444.6 368.4,444.7 370.4,444.8 372.4,444.9 374.4,445 376.4,445.1 378.4,445.1 380.4,445.2 382.4,445.3 384.4,445.4 386.4,445.5 388.4,445.6 390.4,445.6 392.4,445.7 394.4,445.8 396.4,445.9 398.4,446 400.4,446.1 402.4,446.2 404.4,446.2 406.4,446.3 408.4,446.4 410.4,446.5 412.4,446.6 414.4,446.7 416.4,446.7 418.4,446.8 420.4,446.9 422.4,447 424.4,447.1 426.4,447.2 428.4,447.2 430.4,447.3 432.4,447.4 434.4,447.5 436.4,447.6 438.4,447.7 440.4,447.7 442.4,447.8 444.4,447.9 446.4,448 448.4,448.1 450.4,448.2 452.4,448.2 454.4,448.3 456.4,448.4 458.4,448.5 460.4,448.6 462.4,448.7 464.4,448.8 466.4,448.8 468.4,448.9 470.4,449 472.4,449.1 474.4,449.2 476.4,449.3 478.4,449.3 480.4,449.4 482.4,449.5 484.4,449.6 486.4,449.7 488.4,449.8 490.4,449.8 492.4,449.9 494.4,450 496.4,450.1 498.4,450.2 500.4,450.3 502.4,450.3 504.4,450.4 506.4,450.5 508.4,450.6 510.4,450.7 512.4,450.8 514.4,450.9 516.4,450.9 518.4,451 520.4,451.1 522.4,451.2 524.4,451.3 526.4,451.4 528.4,451.4 530.4,451.5 532.4,451.6 534.4,451.7" fill="none" stroke="#3333FF" stroke-width="1.0" stroke-linejoin="round" />
<polyline points="346.4,443.5 346.9,443.5 347.4,443.5 347.9,443.6 348.4,443.6 348.9,443.6 349.4,443.6 349.9,443.6 350.4,443.7 350.9,443.7 351.4,443.7 351.9,443.7 352.4,443.7 352.9,443.7 353.4,443.8 353.9,443.8 354.4,443.8 354.9,443.8 355.4,443.8 355.9,443.8 356.4,443.9 356.9,443.9 357.4,443.9 357.9,443.9 358.4,443.9 358.9,443.9 359.4,444 359.9,444 360.4,444 360.9,444 361.4,444 361.9,444 362.4,444 362.9,444.1 363.4,444.1 363.9,444.1 364.4,444.1 364.9,444.1 365.4,444.1 365.9,444.2 366.4,444.2 366.9,444.2 367.4,444.2 367.9,444.2 368.4,444.2 368.9,444.2 369.4,444.2 369.9,444.3 370.4,444.3 370.9,444.3 371.4,444.3 371.9,444.3 372.4,444.3 372.9,444.3 373.4,444.3 373.9,444.4 374.4,444.4 374.9,444.4 375.4,444.4 375.9,444.4 376.4,444.4 376.9,444.4 377.4,444.4 377.9,444.4 378.4,444.5 378.9,444.5 379.4,444.5 379.9,444.5 380.4,444.5 380.9,444.5 381.4,444.5 381.9,444.5 382.4,444.5 382.9,444.5 383.4,444.5 383.9,444.5 384.4,444.5 384.9,444.5 385.4,444.5 385.9,444.6 386.4,444.6 386.9,444.6 387.4,444.6 387.9,444.6 388.4,444.6 388.9,444.6 389.4,444.6 389.9,444.6 390.4,444.6 390.9,444.6 391.4,444.5 391.9,444.5 392.4,444.5 392.9,444.5 393.4,444.5 393.9,444.5 394.4,444.5 394.9,444.5 395.4,444.5 395.9,444.5 396.4,444.5 396.9,444.4 397.4,444.4 397.9,444.4 398.4,444.4 398.9,444.4 399.4,444.4 399.9,444.3 400.4,444.3 400.9,444.3 401.4,444.2 401.9,444.2 402.4,444.2 402.9,444.1 403.4,444.1 403.9,444.1 404.4,444 404.9,444 405.4,443.9 405.9,443.8 406.4,443.8 406.9,443.7 407.4,443.6 407.9,443.6 408.4,443.5 408.9,443.4 409.4,443.3 409.9,443.1 410.4,443 410.9,442.9 411.4,442.7 411.9,442.5 412.4,442.3 412.9,442.1 413.4,441.9 413.9,441.6 414.4,441.3 414.9,441 415.4,440.7 415.9,440.3 416.4,439.8 416.9,439.4 417.4,438.9 417.9,438.3 418.4,437.7 418.9,437 419.4,436.3 419.9,435.5 420.4,434.7 420.9,433.8 421.4,432.8 421.9,431.7 422.4,430.6 422.9,429.4 423.4,428.2 423.9,426.9 424.4,425.5 424.9,424 425.4,422.5 425.9,420.9 426.4,419.3 426.9,417.6 427.4,415.9 427.9,414.2 428.4,412.5 428.9,410.8 429.4,409 429.9,407.4 430.4,405.7 430.9,404.2 431.4,402.7 431.9,401.4 432.4,400.2 432.9,399.1 433.4,398.3 433.9,397.6 434.4,397.2 434.9,397 435.4,397.1 435.9,397.4 436.4,397.9 436.9,398.6 437.4,399.5 437.9,400.6 438.4,401.9 438.9,403.3 439.4,404.8 439.9,406.5 440.4,408.1 440.9,409.9 441.4,411.6 441.9,413.4 442.4,415.2 442.9,416.9 443.4,418.7 443.9,420.4 444.4,422 444.9,423.6 445.4,425.2 445.9,426.7 446.4,428.1 446.9,429.4 447.4,430.7 447.9,431.9 448.4,433.1 448.9,434.1 449.4,435.1 449.9,436.1 450.4,437 450.9,437.8 451.4,438.5 451.9,439.2 452.4,439.9 452.9,440.5 453.4,441 453.9,441.5 454.4,442 454.9,442.4 455.4,442.8 455.9,443.1 456.4,443.5 456.9,443.8 457.4,444 457.9,444.3 458.4,444.5 458.9,444.7 459.4,444.9 459.9,445.1 460.4,445.3 460.9,445.4 461.4,445.6 461.9,445.7 462.4,445.9 462.9,446 463.4,446.1 463.9,446.2 464.4,446.3 464.9,446.4 465.4,446.5 465.9,446.6 466.4,446.7 466.9,446.8 467.4,446.9 467.9,446.9 468.4,447 468.9,447.1 469.4,447.2 469.9,447.2 470.4,447.3 470.9,447.4 471.4,447.4 471.9,447.5 472.4,447.6 472.9,447.6 473.4,447.7 473.9,447.7 474.4,447.8 474.9,447.8 475.4,447.9 475.9,447.9 476.4,448 476.9,448 477.4,448.1 477.9,448.1 478.4,448.2 478.9,448.2 479.4,448.3 479.9,448.3 480.4,448.4 480.9,448.4 481.4,448.4 481.9,448.5 482.4,448.5 482.9,448.6 483.4,448.6 483.9,448.6 484.4,448.7 484.9,448.7 485.4,448.8 485.9,448.8 486.4,448.8 486.9,448.9 487.4,448.9 487.9,448.9 488.4,449 488.9,449 489.4,449.1 489.9,449.1 490.4,449.1 490.9,449.2 491.4,449.2 491.9,449.2 492.4,449.3 492.9,449.3 493.4,449.3 493.9,449.3 494.4,449.4 494.9,449.4 495.4,449.4 495.9,449.5 496.4,449.5 496.9,449.5 497.4,449.6 497.9,449.6 498.4,449.6 498.9,449.7 499.4,449.7 499.9,449.7 500.4,449.7 500.9,449.8 501.4,449.8 501.9,449.8 502.4,449.9 502.9,449.9 503.4,449.9 503.9,449.9 504.4,450 504.9,450 505.4,450 505.9,450 506.4,450.1 506.9,450.1 507.4,450.1 507.9,450.2 508.4,450.2 508.9,450.2 509.4,450.2 509.9,450.3 510.4,450.3 510.9,450.3 511.4,450.3 511.9,450.4 512.4,450.4 512.9,450.4 513.4,450.4 513.9,450.5 514.4,450.5 514.9,450.5 515.4,450.5 515.9,450.6 516.4,450.6 516.9,450.6 517.4,450.6 517.9,450.7 518.4,450.7 518.9,450.7 519.4,450.7 519.9,450.8 520.4,450.8 520.9,450.8 521.4,450.8 521.9,450.9 522.4,450.9 522.9,450.9 523.4,450.9 523.9,451 524.4,451 524.9,451 525.4,451 525.9,451.1 526.4,451.1 526.9,451.1 527.4,451.1 527.9,451.2 528.4,451.2 528.9,451.2 529.4,451.2 529.9,451.3 530.4,451.3 530.9,451.3 531.4,451.3 531.9,451.3 532.4,451.4 532.9,451.4 533.4,451.4 533.9,451.4 534.4,451.5" fill="none" stroke="#FF33FF" stroke-width="1.0" stroke-linejoin="round" />
<polyline points="346.4,443.5 346.9,443.5 347.4,443.5 347.9,443.6 348.4,443.6 348.9,443.6 349.4,443.6 349.9,443.6 350.4,443.6 350.9,443.7 351.4,443.7 351.9,443.7 352.4,443.7 352.9,443.7 353.4,443.8 353.9,443.8 354.4,443.8 354.9,443.8 355.4,443.8 355.9,443.8 356.4,443.9 356.9,443.9 357.4,443.9 357.9,443.9 358.4,443.9 358.9,443.9 359.4,444 359.9,444 360.4,444 360.9,444 361.4,444 361.9,444 362.4,444.1 362.9,444.1 363.4,444.1 363.9,444.1 364.4,444.1 364.9,444.1 365.4,444.2 365.9,444.2 366.4,444.2 366.9,444.2 367.4,444.2 367.9,444.2 368.4,444.3 368.9,444.3 369.4,444.3 369.9,444.3 370.4,444.3 370.9,444.3 371.4,444.3 371.9,444.4 372.4,444.4 372.9,444.4 373.4,444.4 373.9,444.4 374.4,444.4 374.9,444.4 375.4,444.5 375.9,444.5 376.4,444.5 376.9,444.5 377.4,444.5 377.9,444.5 378.4,444.5 378.9,444.6 379.4,444.6 379.9,444.6 380.4,444.6 380.9,444.6 381.4,444.6 381.9,444.6 382.4,444.6 382.9,444.7 383.4,444.7 383.9,444.7 384.4,444.7 384.9,444.7 385.4,444.7 385.9,444.7 386.4,444.7 386.9,444.7 387.4,444.8 387.9,444.8 388.4,444.8 388.9,444.8 389.4,444.8 389.9,444.8 390.4,444.8 390.9,444.8 391.4,444.8 391.9,444.8 392.4,444.8 392.9,444.9 393.4,444.9 393.9,444.9 394.4,444.9 394.9,444.9 395.4,444.9 395.9,444.9 396.4,444.9 396.9,444.9 397.4,444.9 397.9,444.9 398.4,444.9 398.9,444.9 399.4,444.9 399.9,444.9 400.4,444.9 400.9,444.9 401.4,444.9 401.9,444.9 402.4,444.9 402.9,444.9 403.4,444.9 403.9,444.9 404.4,444.9 404.9,444.9 405.4,444.9 405.9,444.9 406.4,444.9 406.9,444.9 407.4,444.9 407.9,444.8 408.4,444.8 408.9,444.8 409.4,444.8 409.9,444.8 410.4,444.8 410.9,444.8 411.4,444.7 411.9,444.7 412.4,444.7 412.9,444.7 413.4,444.7 413.9,444.6 414.4,444.6 414.9,444.6 415.4,444.6 415.9,444.5 416.4,444.5 416.9,444.5 417.4,444.4 417.9,444.4 418.4,444.3 418.9,444.3 419.4,444.2 419.9,444.2 420.4,444.1 420.9,444.1 421.4,444 421.9,444 422.4,443.9 422.9,443.8 423.4,443.8 423.9,443.7 424.4,443.6 424.9,443.5 425.4,443.4 425.9,443.3 426.4,443.2 426.9,443.1 427.4,443 427.9,442.9 428.4,442.7 428.9,442.6 429.4,442.5 429.9,442.3 430.4,442.1 430.9,442 431.4,441.8 431.9,441.6 432.4,441.4 432.9,441.2 433.4,440.9 433.9,440.7 434.4,440.4 434.9,440.1 435.4,439.8 435.9,439.4 436.4,439.1 436.9,438.7 437.4,438.2 437.9,437.7 438.4,437.2 438.9,436.6 439.4,436 439.9,435.3 440.4,434.6 440.9,433.7 441.4,432.8 441.9,431.7 442.4,430.5 442.9,429.2 443.4,427.8 443.9,426.1 444.4,424.3 444.9,422.3 445.4,420.1 445.9,417.6 446.4,414.9 446.9,412 447.4,408.7 447.9,405.2 448.4,401.3 448.9,397.2 449.4,392.7 449.9,388 450.4,383 450.9,377.8 451.4,372.5 451.9,367.1 452.4,361.7 452.9,356.4 453.4,351.5 453.9,347 454.4,343.3 454.9,340.3 455.4,338.4 455.9,337.6 456.4,338 456.9,339.5 457.4,342.1 457.9,345.6 458.4,349.8 458.9,354.6 459.4,359.8 459.9,365.2 460.4,370.7 460.9,376.1 461.4,381.4 461.9,386.5 462.4,391.4 462.9,396 463.4,400.3 463.9,404.3 464.4,408 464.9,411.4 465.4,414.6 465.9,417.4 466.4,420 466.9,422.4 467.4,424.5 467.9,426.4 468.4,428.2 468.9,429.7 469.4,431.1 469.9,432.4 470.4,433.6 470.9,434.6 471.4,435.5 471.9,436.4 472.4,437.1 472.9,437.8 473.4,438.5 473.9,439 474.4,439.6 474.9,440.1 475.4,440.5 475.9,441 476.4,441.3 476.9,441.7 477.4,442.1 477.9,442.4 478.4,442.7 478.9,443 479.4,443.3 479.9,443.5 480.4,443.8 480.9,444 481.4,444.2 481.9,444.4 482.4,444.6 482.9,444.8 483.4,445 483.9,445.2 484.4,445.3 484.9,445.5 485.4,445.6 485.9,445.8 486.4,445.9 486.9,446.1 487.4,446.2 487.9,446.3 488.4,446.4 488.9,446.6 489.4,446.7 489.9,446.8 490.4,446.9 490.9,447 491.4,447.1 491.9,447.2 492.4,447.3 492.9,447.4 493.4,447.5 493.9,447.5 494.4,447.6 494.9,447.7 495.4,447.8 495.9,447.9 496.4,447.9 496.9,448 497.4,448.1 497.9,448.1 498.4,448.2 498.9,448.3 499.4,448.3 499.9,448.4 500.4,448.5 500.9,448.5 501.4,448.6 501.9,448.6 502.4,448.7 502.9,448.8 503.4,448.8 503.9,448.9 504.4,448.9 504.9,449 505.4,449 505.9,449.1 506.4,449.1 506.9,449.2 507.4,449.2 507.9,449.3 508.4,449.3 508.9,449.3 509.4,449.4 509.9,449.4 510.4,449.5 510.9,449.5 511.4,449.6 511.9,449.6 512.4,449.6 512.9,449.7 513.4,449.7 513.9,449.8 514.4,449.8 514.9,449.8 515.4,449.9 515.9,449.9 516.4,450 516.9,450 517.4,450 517.9,450.1 518.4,450.1 518.9,450.1 519.4,450.2 519.9,450.2 520.4,450.2 520.9,450.3 521.4,450.3 521.9,450.3 522.4,450.4 522.9,450.4 523.4,450.4 523.9,450.5 524.4,450.5 524.9,450.5 525.4,450.6 525.9,450.6 526.4,450.6 526.9,450.7 527.4,450.7 527.9,450.7 528.4,450.8 528.9,450.8 529.4,450.8 529.9,450.8 530.4,450.9 530.9,450.9 531.4,450.9 531.9,451 532.4,451 532.9,451 533.4,451 533.9,451.1 534.4,451.1" fill="none" stroke="#55AA55" stroke-width="1.0" stroke-linejoin="round" />
<polyline points="346.4,443.7 346.9,443.8 347.4,443.8 347.9,443.8 348.4,443.8 348.9,443.8 349.4,443.9 349.9,443.9 350.4,443.9 350.9,443.9 351.4,443.9 351.9,444 352.4,444 352.9,444 353.4,444 353.9,444 354.4,444.1 354.9,444.1 355.4,444.1 355.9,444.1 356.4,444.1 356.9,444.2 357.4,444.2 357.9,444.2 358.4,444.2 358.9,444.2 359.4,444.3 359.9,444.3 360.4,444.3 360.9,444.3 361.4,444.3 361.9,444.4 362.4,444.4 362.9,444.4 363.4,444.4 363.9,444.4 364.4,444.5 364.9,444.5 365.4,444.5 365.9,444.5 366.4,444.5 366.9,444.6 367.4,444.6 367.9,444.6 368.4,444.6 368.9,444.6 369.4,444.7 369.9,444.7 370.4,444.7 370.9,444.7 371.4,444.7 371.9,444.8 372.4,444.8 372.9,444.8 373.4,444.8 373.9,444.8 374.4,444.9 374.9,444.9 375.4,444.9 375.9,444.9 376.4,444.9 376.9,445 377.4,445 377.9,445 378.4,445 378.9,445 379.4,445.1 379.9,445.1 380.4,445.1 380.9,445.1 381.4,445.1 381.9,445.2 382.4,445.2 382.9,445.2 383.4,445.2 383.9,445.2 384.4,445.3 384.9,445.3 385.4,445.3 385.9,445.3 386.4,445.3 386.9,445.4 387.4,445.4 387.9,445.4 388.4,445.4 388.9,445.4 389.4,445.5 389.9,445.5 390.4,445.5 390.9,445.5 391.4,445.5 391.9,445.5 392.4,445.6 392.9,445.6 393.4,445.6 393.9,445.6 394.4,445.6 394.9,445.7 395.4,445.7 395.9,445.7 396.4,445.7 396.9,445.7 397.4,445.7 397.9,445.8 398.4,445.8 398.9,445.8 399.4,445.8 399.9,445.8 400.4,445.9 400.9,445.9 401.4,445.9 401.9,445.9 402.4,445.9 402.9,445.9 403.4,446 403.9,446 404.4,446 404.9,446 405.4,446 405.9,446 406.4,446.1 406.9,446.1 407.4,446.1 407.9,446.1 408.4,446.1 408.9,446.1 409.4,446.2 409.9,446.2 410.4,446.2 410.9,446.2 411.4,446.2 411.9,446.2 412.4,446.3 412.9,446.3 413.4,446.3 413.9,446.3 414.4,446.3 414.9,446.3 415.4,446.3 415.9,446.4 416.4,446.4 416.9,446.4 417.4,446.4 417.9,446.4 418.4,446.4 418.9,446.4 419.4,446.4 419.9,446.5 420.4,446.5 420.9,446.5 421.4,446.5 421.9,446.5 422.4,446.5 422.9,446.5 423.4,446.5 423.9,446.5 424.4,446.5 424.9,446.6 425.4,446.6 425.9,446.6 426.4,446.6 426.9,446.6 427.4,446.6 427.9,446.6 428.4,446.6 428.9,446.6 429.4,446.6 429.9,446.6 430.4,446.6 430.9,446.6 431.4,446.6 431.9,446.6 432.4,446.6 432.9,446.6 433.4,446.6 433.9,446.6 434.4,446.6 434.9,446.6 435.4,446.6 435.9,446.5 436.4,446.5 436.9,446.5 437.4,446.5 437.9,446.5 438.4,446.5 438.9,446.4 439.4,446.4 439.9,446.4 440.4,446.3 440.9,446.3 441.4,446.3 441.9,446.2 442.4,446.2 442.9,446.1 443.4,446.1 443.9,446 444.4,445.9 444.9,445.9 445.4,445.8 445.9,445.7 446.4,445.6 446.9,445.5 447.4,445.4 447.9,445.2 448.4,445.1 448.9,444.9 449.4,444.8 449.9,444.6 450.4,444.4 450.9,444.1 451.4,443.9 451.9,443.6 452.4,443.3 452.9,442.9 453.4,442.5 453.9,442 454.4,441.5 454.9,440.8 455.4,440.1 455.9,439.2 456.4,438.1 456.9,436.8 457.4,435.3 457.9,433.4 458.4,431.1 458.9,428.3 459.4,424.9 459.9,420.9 460.4,416.3 460.9,410.9 461.4,404.8 461.9,398.1 462.4,390.9 462.9,383.4 463.4,376.1 463.9,369.6 464.4,364.6 464.9,361.7 465.4,361.4 465.9,363.8 466.4,368.6 466.9,374.9 467.4,382.1 467.9,389.6 468.4,397 468.9,403.8 469.4,410.1 469.9,415.6 470.4,420.5 470.9,424.6 471.4,428.2 471.9,431.1 472.4,433.5 472.9,435.6 473.4,437.2 473.9,438.6 474.4,439.8 474.9,440.7 475.4,441.6 475.9,442.3 476.4,442.9 476.9,443.4 477.4,443.9 477.9,444.3 478.4,444.6 478.9,445 479.4,445.3 479.9,445.6 480.4,445.8 480.9,446.1 481.4,446.3 481.9,446.5 482.4,446.7 482.9,446.8 483.4,447 483.9,447.1 484.4,447.3 484.9,447.4 485.4,447.5 485.9,447.7 486.4,447.8 486.9,447.9 487.4,448 487.9,448.1 488.4,448.2 488.9,448.2 489.4,448.3 489.9,448.4 490.4,448.5 490.9,448.6 491.4,448.6 491.9,448.7 492.4,448.8 492.9,448.8 493.4,448.9 493.9,448.9 494.4,449 494.9,449 495.4,449.1 495.9,449.2 496.4,449.2 496.9,449.2 497.4,449.3 497.9,449.3 498.4,449.4 498.9,449.4 499.4,449.5 499.9,449.5 500.4,449.6 500.9,449.6 501.4,449.6 501.9,449.7 502.4,449.7 502.9,449.8 503.4,449.8 503.9,449.8 504.4,449.9 504.9,449.9 505.4,449.9 505.9,450 506.4,450 506.9,450 507.4,450.1 507.9,450.1 508.4,450.1 508.9,450.2 509.4,450.2 509.9,450.2 510.4,450.3 510.9,450.3 511.4,450.3 511.9,450.3 512.4,450.4 512.9,450.4 513.4,450.4 513.9,450.5 514.4,450.5 514.9,450.5 515.4,450.5 515.9,450.6 516.4,450.6 516.9,450.6 517.4,450.7 517.9,450.7 518.4,450.7 518.9,450.7 519.4,450.8 519.9,450.8 520.4,450.8 520.9,450.8 521.4,450.9 521.9,450.9 522.4,450.9 522.9,450.9 523.4,451 523.9,451 524.4,451 524.9,451 525.4,451.1 525.9,451.1 526.4,451.1 526.9,451.1 527.4,451.2 527.9,451.2 528.4,451.2 528.9,451.2 529.4,451.3 529.9,451.3 530.4,451.3 530.9,451.3 531.4,451.4 531.9,451.4 532.4,451.4 532.9,451.4 533.4,451.5 533.9,451.5 534.4,451.5" fill="none" stroke="#6A6ACC" stroke-width="1.0" stroke-linejoin="round" />
<polyline points="346.5,444 346.8,444 347,444 347.3,444 347.7,444 348,444 348.4,444 348.7,444 349.1,444 349.5,444.1 349.9,444.1 350.4,444.1 350.8,444.1 351.3,444.1 351.7,444.1 352.2,444.1 352.7,444.1 353.2,444.1 353.7,444.2 354.3,444.2 354.8,444.2 355.3,444.2 355.9,444.2 356.4,444.2 357,444.2 357.6,444.2 358.1,444.3 358.7,444.3 359.3,444.3 359.9,444.3 360.5,444.3 361,444.3 361.6,444.3 362.2,444.3 362.8,444.3 363.4,444.3 364,444.3 364.6,444.4 365.2,444.4 365.8,444.4 366.4,444.4 366.9,444.4 367.5,444.4 368.1,444.4 368.7,444.4 369.2,444.4 369.8,444.4 370.3,444.4 370.8,444.4 371.4,444.3 371.9,444.3 372.4,444.3 372.9,444.3 373.4,444.3 373.9,444.3 374.5,444.3 375,444.2 375.5,444.2 376.1,444.2 376.6,444.2 377.2,444.2 377.7,444.1 378.2,444.1 378.8,444.1 379.3,444.1 379.9,444 380.5,444 381,444 381.6,443.9 382.1,443.9 382.7,443.9 383.2,443.8 383.8,443.8 384.3,443.8 384.8,443.7 385.4,443.7 385.9,443.7 386.5,443.6 387,443.6 387.5,443.6 388,443.5 388.6,443.5 389.1,443.4 389.6,443.4 390.1,443.3 390.6,443.3 391.1,443.3 391.6,443.2 392,443.2 392.5,443.1 393,443.1 393.4,443 393.9,443 394.3,442.9 394.8,442.9 395.2,442.8 395.6,442.8 396,442.7 396.4,442.7 396.8,442.6 397.2,442.6 397.5,442.5 397.9,442.5 398.8,442.4 399.6,442.2 400.3,442.1 401,442 401.6,441.9 402.2,441.7 402.7,441.6 403.2,441.5 403.6,441.3 404.1,441.2 404.5,441 404.9,440.8 405.3,440.7 405.7,440.5 406,440.3 406.4,440.1 406.8,439.9 407.3,439.6 407.7,439.4 408.3,439.1 408.8,438.7 409.4,438.4 409.9,438 410.4,437.6 410.9,437.2 411.4,436.8 411.9,436.4 412.4,435.9 412.9,435.4 413.3,435 413.8,434.5 414.3,434 414.7,433.5 415.2,433 415.8,432.4 416.3,431.7 416.9,431.1 417.4,430.5 417.9,429.8 418.4,429.2 418.9,428.4 419.4,427.7 419.9,426.9 420.5,426 421,425 421.5,424 422,422.9 422.5,421.8 423,420.6 423.5,419.3 424,417.9 424.5,416.5 425,415.1 425.5,413.7 426,412.3 426.5,410.9 427,409.5 427.5,408.2 428,407 428.5,405.9 429,404.8 429.5,403.7 430,402.6 430.5,401.6 431.1,400.5 431.6,399.5 432.1,398.5 432.6,397.5 433.1,396.5 433.6,395.6 434.1,394.6 434.6,393.8 435,392.9 435.6,391.7 436.2,390.6 436.8,389.6 437.3,388.6 437.9,387.6 438.4,386.7 438.9,385.8 439.4,385 439.9,384.2 440.3,383.5 440.9,382.5 441.5,381.9 442,381.3 442.5,380.8 443,380 443.5,379 444,377.9 444.5,376.7 445.1,375.4 445.6,374 446.1,372.4 446.7,370.5 447.2,368.4 447.7,366 448.2,363.2 448.7,360.2 449.2,357.1 449.7,353.8 450.2,350.6 450.7,347.4 451.2,344.2 451.7,340.7 452.2,337.3 452.7,333.8 453.2,330.5 453.7,327.4 454.2,324.7 454.8,321.9 455.3,319.4 455.9,317.2 456.4,315.2 457,313.5 457.5,312 458,310.8 458.6,309.8 459.1,309 459.7,308.5 460.2,308.2 460.7,308.1 461.3,308.2 461.8,308.7 462.4,309.4 462.9,310.5 463.5,312 464.1,313.8 464.7,316 465.3,318.5 465.8,321.4 466.4,324.7 466.9,328.4 467.5,332.5 468,337 468.5,341.9 469,347.4 469.5,353.7 470,360.6 470.6,368 471.1,375.4 471.7,382.4 472.2,388.1 472.7,393.8 473.2,399.4 473.7,404.8 474.3,410.1 475,415 475.4,417.8 475.9,420.7 476.4,423.5 476.9,426.2 477.4,428.8 477.9,431.3 478.5,433.6 479.1,435.7 479.6,437.6 480.2,439.2 480.6,440.3 481,441.2 481.3,441.9 481.6,442.4 481.9,442.8 482.2,443.1 482.6,443.3 483.1,443.5 483.7,443.7 484.4,443.9 485.4,444.1 486.5,444.5 486.8,444.6 487.2,444.7 487.5,444.8 487.9,444.9 488.3,445 488.7,445.2 489.1,445.3 489.5,445.4 489.9,445.5 490.3,445.6 490.8,445.7 491.3,445.8 491.7,445.9 492.2,446 492.7,446.2 493.2,446.3 493.7,446.4 494.2,446.5 494.7,446.6 495.2,446.7 495.8,446.8 496.3,446.9 496.8,447 497.4,447.1 497.9,447.3 498.5,447.4 499,447.5 499.6,447.6 500.1,447.7 500.7,447.8 501.3,447.9 501.8,448 502.4,448.1 502.9,448.2 503.5,448.3 504.1,448.4 504.6,448.5 505.2,448.6 505.7,448.6 506.3,448.7 506.8,448.8 507.4,448.9 507.9,449 508.4,449.1 509,449.1 509.5,449.2 510,449.3 510.5,449.4 511,449.4 511.5,449.5 512,449.6 512.6,449.6 513.1,449.7 513.7,449.8 514.2,449.8 514.8,449.9 515.4,450 515.9,450 516.5,450.1 517.1,450.1 517.7,450.2 518.2,450.2 518.8,450.3 519.4,450.3 520,450.4 520.6,450.4 521.2,450.5 521.8,450.5 522.3,450.6 522.9,450.6 523.5,450.7 524.1,450.7 524.6,450.8 525.2,450.8 525.7,450.8 526.3,450.9 526.8,450.9 527.3,451 527.8,451 528.3,451 528.8,451.1 529.3,451.1 529.8,451.1 530.3,451.2 530.7,451.2 531.2,451.2 531.6,451.3 532,451.3 532.4,451.3 532.7,451.4 533.1,451.4 533.4,451.4 533.8,451.4 534.1,451.5 534.3,451.5 534.6,451.5" fill="none" stroke="#333333" stroke-width="0.9" stroke-linejoin="round" />
<polyline points="346.5,443.3 346.8,443.3 347,443.3 347.3,443.3 347.7,443.3 348,443.3 348.4,443.3 348.7,443.4 349.1,443.4 349.5,443.4 349.9,443.4 350.4,443.4 350.8,443.4 351.3,443.4 351.7,443.4 352.2,443.5 352.7,443.5 353.2,443.5 353.7,443.5 354.3,443.5 354.8,443.5 355.3,443.6 355.9,443.6 356.4,443.6 357,443.6 357.6,443.6 358.1,443.6 358.7,443.6 359.3,443.7 359.9,443.7 360.5,443.7 361,443.7 361.6,443.7 362.2,443.7 362.8,443.7 363.4,443.7 364,443.8 364.6,443.8 365.2,443.8 365.8,443.8 366.4,443.8 366.9,443.8 367.5,443.8 368.1,443.8 368.7,443.8 369.2,443.8 369.8,443.8 370.3,443.8 370.8,443.8 371.4,443.8 371.9,443.7 372.4,443.7 372.9,443.7 373.4,443.7 373.9,443.7 374.5,443.7 375,443.6 375.5,443.6 376.1,443.6 376.6,443.6 377.2,443.5 377.7,443.5 378.2,443.5 378.8,443.4 379.3,443.4 379.9,443.4 380.5,443.3 381,443.3 381.6,443.2 382.1,443.2 382.7,443.2 383.2,443.1 383.8,443.1 384.3,443 384.8,443 385.4,442.9 385.9,442.9 386.5,442.8 387,442.8 387.5,442.7 388,442.7 388.6,442.6 389.1,442.6 389.6,442.5 390.1,442.5 390.6,442.4 391.1,442.4 391.6,442.3 392,442.3 392.5,442.2 393,442.2 393.4,442.1 393.9,442.1 394.3,442 394.8,441.9 395.2,441.9 395.6,441.8 396,441.8 396.4,441.7 396.8,441.7 397.2,441.6 397.5,441.6 397.9,441.5 398.8,441.4 399.6,441.2 400.3,441.1 401,441 401.6,440.8 402.2,440.7 402.7,440.6 403.2,440.4 403.7,440.3 404.1,440.1 404.5,440 404.9,439.8 405.3,439.6 405.7,439.5 406.1,439.3 406.4,439.1 406.8,438.9 407.3,438.6 407.7,438.4 408.3,438.1 408.9,437.7 409.5,437.3 410,437 410.5,436.6 411.1,436.1 411.6,435.7 412.1,435.3 412.6,434.8 413.1,434.3 413.6,433.8 414,433.3 414.5,432.8 415,432.2 415.5,431.6 416.1,431 416.5,430.4 417,429.8 417.5,429.2 418,428.6 418.4,427.8 418.9,427 419.4,426.1 419.9,425 420.5,423.8 421.1,422.4 421.6,421.3 422,420 422.5,418.5 423.1,417 423.6,415.4 424.2,413.7 424.7,411.9 425.3,410.1 425.8,408.3 426.4,406.6 427,404.8 427.5,403.1 428,401.5 428.5,399.9 429,398.5 429.5,397.2 429.9,396 430.6,394.3 431.2,392.7 431.8,391.4 432.3,390.2 432.8,389.1 433.3,388.2 433.8,387.5 434.2,386.8 434.7,386.2 435.1,385.7 435.8,385.2 436.4,385.1 436.9,385.3 437.4,385.7 437.9,386.2 438.5,386.5 439,386.8 439.5,387.3 440.1,387.8 440.6,388.3 441.1,388.7 441.6,388.9 442,388.8 442.6,388 443.2,386.6 443.7,384.9 444.2,383 444.7,381.2 445.2,379.3 445.7,376.9 446.3,373.7 446.8,370.3 447.3,366.2 447.8,361.8 448.4,357.2 449,352.7 449.5,349 450,345.2 450.6,341.4 451.2,337.6 451.8,333.8 452.4,330 452.9,327 453.5,323.8 454.1,320.5 454.7,317.2 455.3,314.2 455.8,311.5 456.3,309.3 456.8,307.8 457.6,307 458.2,308.4 458.7,310.5 459.2,312 459.7,312.8 460.2,313.4 460.7,313.9 461.2,314.2 461.8,314 462.4,313.5 463,313.1 463.6,313.2 464.3,314 464.9,315.4 465.5,318 466.1,322.1 466.6,327.4 467.3,333.5 467.8,337.4 468.3,341.4 468.9,345.8 469.5,350.6 470,356.2 470.5,362.9 471,370.6 471.5,378.6 472,386.3 472.6,393 473.1,397.7 473.6,401.7 474.1,405.5 474.6,409 475.3,412.5 476,416.2 476.4,418.2 476.9,420.2 477.3,422.4 477.8,424.5 478.3,426.6 478.9,428.8 479.4,430.8 480,432.8 480.6,434.6 481.1,436.3 481.7,437.9 482.3,439.2 482.7,440.1 483.2,440.9 483.6,441.6 483.9,442.2 484.3,442.7 484.7,443.1 485.1,443.4 485.5,443.7 486,444 486.5,444.2 487,444.5 487.7,444.7 488.3,444.9 489.1,445.2 490,445.5 490.4,445.6 490.7,445.7 491.1,445.8 491.5,445.9 491.9,446.1 492.3,446.2 492.7,446.3 493.1,446.4 493.6,446.4 494,446.5 494.5,446.6 495,446.7 495.4,446.8 495.9,446.9 496.4,447 496.9,447 497.4,447.1 497.9,447.2 498.4,447.3 498.9,447.3 499.5,447.4 500,447.5 500.5,447.6 501.1,447.6 501.6,447.7 502.2,447.8 502.7,447.8 503.3,447.9 503.8,448 504.4,448 504.9,448.1 505.5,448.2 506.1,448.2 506.6,448.3 507.2,448.4 507.8,448.4 508.3,448.5 508.9,448.6 509.4,448.6 510,448.7 510.5,448.8 510.9,448.8 511.4,448.9 511.9,448.9 512.4,449 513,449 513.5,449.1 514,449.2 514.6,449.2 515.1,449.3 515.7,449.3 516.3,449.4 516.8,449.4 517.4,449.5 518,449.5 518.6,449.6 519.2,449.7 519.7,449.7 520.3,449.8 520.9,449.8 521.5,449.9 522.1,449.9 522.7,450 523.3,450 523.8,450.1 524.4,450.1 525,450.2 525.5,450.2 526.1,450.3 526.6,450.3 527.2,450.4 527.7,450.4 528.2,450.5 528.7,450.5 529.2,450.5 529.7,450.6 530.2,450.6 530.6,450.7 531.1,450.7 531.5,450.7 531.9,450.8 532.3,450.8 532.7,450.8 533.1,450.9 533.4,450.9 533.7,450.9 534.1,451 534.3,451 534.6,451" fill="none" stroke="#FF3333" stroke-width="1.0" stroke-linejoin="round" />
<text x="477.9" y="349.2" font-family='"Liberation Serif", serif' font-size="9" font-weight="bold" text-anchor="start" fill="#000" textLength="27.1" lengthAdjust="spacingAndGlyphs" >530.6 eV</text>
<line x1="475.1" y1="345.9" x2="455.5" y2="363.3" stroke="#000" stroke-width="0.7" />
<polygon points="455.5,363.3 457.4,359.4 459.6,361.8" fill="#000"/>
<text x="487.9" y="394.9" font-family='"Liberation Serif", serif' font-size="9" font-weight="bold" text-anchor="start" fill="#000" textLength="26.7" lengthAdjust="spacingAndGlyphs" >529.9 eV</text>
<line x1="484.9" y1="392.1" x2="466.7" y2="399.1" stroke="#000" stroke-width="0.7" />
<polygon points="466.7,399.1 469.9,396.2 471,399.2" fill="#000"/>
<text x="399" y="406.2" font-family='"Liberation Serif", serif' font-size="9" font-weight="bold" text-anchor="start" fill="#000" textLength="21.6" lengthAdjust="spacingAndGlyphs" >532 eV</text>
<line x1="415" y1="406" x2="431.7" y2="425.7" stroke="#000" stroke-width="0.7" />
<polygon points="431.7,425.7 427.9,423.7 430.3,421.6" fill="#000"/>
<rect x="316.8" y="287.8" width="236.8" height="184.2" fill="none" stroke="#000" stroke-width="1.5"/>
<line x1="67.7" y1="695.6" x2="67.7" y2="699.2" stroke="#000" stroke-width="1.1" />
<line x1="97" y1="695.6" x2="97" y2="699.2" stroke="#000" stroke-width="1.1" />
<line x1="126.3" y1="695.6" x2="126.3" y2="699.2" stroke="#000" stroke-width="1.1" />
<line x1="155.6" y1="695.6" x2="155.6" y2="699.2" stroke="#000" stroke-width="1.1" />
<line x1="184.9" y1="695.6" x2="184.9" y2="699.2" stroke="#000" stroke-width="1.1" />
<line x1="214.2" y1="695.6" x2="214.2" y2="699.2" stroke="#000" stroke-width="1.1" />
<line x1="243.5" y1="695.6" x2="243.5" y2="699.2" stroke="#000" stroke-width="1.1" />
<line x1="272.8" y1="695.6" x2="272.8" y2="699.2" stroke="#000" stroke-width="1.1" />
<line x1="53.1" y1="695.6" x2="53.1" y2="698" stroke="#000" stroke-width="1.1" />
<line x1="82.4" y1="695.6" x2="82.4" y2="698" stroke="#000" stroke-width="1.1" />
<line x1="111.7" y1="695.6" x2="111.7" y2="698" stroke="#000" stroke-width="1.1" />
<line x1="140.9" y1="695.6" x2="140.9" y2="698" stroke="#000" stroke-width="1.1" />
<line x1="170.2" y1="695.6" x2="170.2" y2="698" stroke="#000" stroke-width="1.1" />
<line x1="199.6" y1="695.6" x2="199.6" y2="698" stroke="#000" stroke-width="1.1" />
<line x1="228.9" y1="695.6" x2="228.9" y2="698" stroke="#000" stroke-width="1.1" />
<line x1="258.2" y1="695.6" x2="258.2" y2="698" stroke="#000" stroke-width="1.1" />
<line x1="287.4" y1="695.6" x2="287.4" y2="698" stroke="#000" stroke-width="1.1" />
<text x="67.7" y="709.3" font-family='"Liberation Sans", sans-serif' font-size="10" font-weight="normal" text-anchor="middle" fill="#000" textLength="15" lengthAdjust="spacingAndGlyphs" >665</text>
<text x="97" y="709.3" font-family='"Liberation Sans", sans-serif' font-size="10" font-weight="normal" text-anchor="middle" fill="#000" textLength="15" lengthAdjust="spacingAndGlyphs" >660</text>
<text x="126.3" y="709.3" font-family='"Liberation Sans", sans-serif' font-size="10" font-weight="normal" text-anchor="middle" fill="#000" textLength="15" lengthAdjust="spacingAndGlyphs" >655</text>
<text x="155.6" y="709.3" font-family='"Liberation Sans", sans-serif' font-size="10" font-weight="normal" text-anchor="middle" fill="#000" textLength="15" lengthAdjust="spacingAndGlyphs" >650</text>
<text x="184.9" y="709.3" font-family='"Liberation Sans", sans-serif' font-size="10" font-weight="normal" text-anchor="middle" fill="#000" textLength="15" lengthAdjust="spacingAndGlyphs" >645</text>
<text x="214.2" y="709.3" font-family='"Liberation Sans", sans-serif' font-size="10" font-weight="normal" text-anchor="middle" fill="#000" textLength="15" lengthAdjust="spacingAndGlyphs" >640</text>
<text x="243.5" y="709.3" font-family='"Liberation Sans", sans-serif' font-size="10" font-weight="normal" text-anchor="middle" fill="#000" textLength="15" lengthAdjust="spacingAndGlyphs" >635</text>
<text x="272.8" y="709.3" font-family='"Liberation Sans", sans-serif' font-size="10" font-weight="normal" text-anchor="middle" fill="#000" textLength="15" lengthAdjust="spacingAndGlyphs" >630</text>
<text x="127.8" y="727" font-family='"Liberation Serif", serif' font-size="11" font-weight="bold" text-anchor="start" fill="#000" textLength="85.2" lengthAdjust="spacingAndGlyphs" >Binding energy (eV)</text>
<text transform="translate(36,640.7) rotate(-90)" font-family='"Liberation Serif", serif' font-size="10.5" font-weight="bold" text-anchor="start" fill="#000" textLength="63.7" lengthAdjust="spacingAndGlyphs" >Intensity (a.u.)</text>
<text x="66.5" y="548" font-family='"Liberation Serif", serif' font-size="30.5" font-weight="normal" text-anchor="start" fill="#000" >d</text>
<text x="249.6" y="541.3" font-family='"Liberation Serif", serif' font-size="12.5" font-weight="bold" text-anchor="start" fill="#000" textLength="30.4" lengthAdjust="spacingAndGlyphs" >Mn 2P</text>
<polyline points="72,620.2 72.5,620.2 73,620.2 73.5,620.2 74,620.2 74.5,620.2 75,620.2 75.5,620.2 76,620.2 76.5,620.2 77,620.2 77.5,620.2 78,620.2 78.5,620.2 79,620.2 79.5,620.2 80,620.2 80.5,620.2 81,620.2 81.5,620.2 82,620.2 82.5,620.2 83,620.2 83.5,620.2 84,620.2 84.5,620.2 85,620.2 85.5,620.2 86,620.2 86.5,620.2 87,620.2 87.5,620.2 88,620.2 88.5,620.2 89,620.2 89.5,620.2 90,620.2 90.5,620.2 91,620.2 91.5,620.2 92,620.2 92.5,620.2 93,620.2 93.5,620.2 94,620.2 94.5,620.2 95,620.2 95.5,620.2 96,620.2 96.5,620.2 97,620.2 97.5,620.2 98,620.2 98.5,620.2 99,620.2 99.5,620.2 100,620.2 100.5,620.2 101,620.2 101.5,620.2 102,620.2 102.5,620.2 103,620.2 103.5,620.2 104,620.2 104.5,620.2 105,620.2 105.5,620.2 106,620.2 106.5,620.2 107,620.2 107.5,620.2 108,620.1 108.5,620.1 109,620.1 109.5,620.1 110,620 110.5,620 111,619.9 111.5,619.9 112,619.8 112.5,619.7 113,619.6 113.5,619.5 114,619.4 114.5,619.2 115,619 115.5,618.7 116,618.4 116.5,618.1 117,617.8 117.5,617.3 118,616.8 118.5,616.3 119,615.7 119.5,615 120,614.2 120.5,613.3 121,612.4 121.5,611.3 122,610.2 122.5,609 123,607.7 123.5,606.2 124,604.7 124.5,603.1 125,601.5 125.5,599.7 126,597.9 126.5,596.1 127,594.2 127.5,592.3 128,590.4 128.5,588.5 129,586.6 129.5,584.8 130,583.1 130.5,581.5 131,580 131.5,578.6 132,577.4 132.5,576.3 133,575.5 133.5,574.8 134,574.4 134.5,574.2 135,574.2 135.5,574.4 136,574.9 136.5,575.6 137,576.6 137.5,577.7 138,579.1 138.5,580.6 139,582.3 139.5,584.2 140,586.2 140.5,588.3 141,590.5 141.5,592.8 142,595.2 142.5,597.5 143,599.9 143.5,602.2 144,604.5 144.5,606.8 145,609 145.5,611.1 146,613.2 146.5,615.1 147,617 147.5,618.7 148,620.3 148.5,621.8 149,623.2 149.5,624.5 150,625.7 150.5,626.8 151,627.7 151.5,628.6 152,629.4 152.5,630.1 153,630.7 153.5,631.3 154,631.7 154.5,632.2 155,632.5 155.5,632.8 156,633.1 156.5,633.3 157,633.5 157.5,633.7 158,633.8 158.5,634 159,634.1 159.5,634.1 160,634.2 160.5,634.3 161,634.3 161.5,634.3 162,634.4 162.5,634.4 163,634.4 163.5,634.4 164,634.5 164.5,634.5 165,634.5 165.5,634.5 166,634.5 166.5,634.5 167,634.5 167.5,634.5 168,634.5 168.5,634.5 169,634.5 169.5,634.5 170,634.5 170.5,634.5 171,634.5 171.5,634.5 172,634.5 172.5,634.5 173,634.5 173.5,634.5 174,634.5 174.5,634.5 175,634.5 175.5,634.5 176,634.5 176.5,634.5 177,634.5 177.5,634.5 178,634.5 178.5,634.5 179,634.5 179.5,634.5 180,634.5 180.5,634.5 181,634.5 181.5,634.5 182,634.5 182.5,634.5 183,634.5 183.5,634.6 184,634.6 184.5,634.6 185,634.6 185.5,634.7 186,634.7 186.5,634.7 187,634.8 187.5,634.8 188,634.9 188.5,635 189,635.1 189.5,635.2 190,635.3 190.5,635.5 191,635.7 191.5,635.9 192,636.1 192.5,636.3 193,636.6 193.5,636.9 194,637.3 194.5,637.7 195,638.1 195.5,638.6 196,639.1 196.5,639.7 197,640.3 197.5,640.9 198,641.6 198.5,642.4 199,643.2 199.5,644 200,644.9 200.5,645.8 201,646.7 201.5,647.7 202,648.6 202.5,649.7 203,650.7 203.5,651.7 204,652.8 204.5,653.8 205,654.8 205.5,655.8 206,656.9 206.5,657.8 207,658.8 207.5,659.7 208,660.6 208.5,661.5 209,662.3 209.5,663.1 210,663.9 210.5,664.6 211,665.2 211.5,665.8 212,666.4 212.5,666.9 213,667.4 213.5,667.8 214,668.2 214.5,668.6 215,668.9 215.5,669.2 216,669.4 216.5,669.6 217,669.8 217.5,670 218,670.2 218.5,670.3 219,670.4 219.5,670.5 220,670.6 220.5,670.7 221,670.7 221.5,670.8 222,670.8 222.5,670.8 223,670.9 223.5,670.9 224,670.9 224.5,670.9 225,671 225.5,671 226,671 226.5,671 227,671 227.5,671 228,671 228.5,671 229,671 229.5,671 230,671 230.5,671 231,671 231.5,671 232,671 232.5,671 233,671 233.5,671 234,671 234.5,671 235,671 235.5,671 236,671 236.5,671 237,671 237.5,671 238,671 238.5,671 239,671 239.5,671 240,671 240.5,671 241,671 241.5,671 242,671 242.5,671 243,671 243.5,671 244,671 244.5,671 245,671 245.5,671 246,671 246.5,671 247,671 247.5,671 248,671 248.5,671 249,671 249.5,671 250,671 250.5,671 251,671 251.5,671 252,671 252.5,671 253,671 253.5,671 254,671 254.5,671 255,671 255.5,671 256,671 256.5,671 257,671 257.5,671 258,671 258.5,671 259,671 259.5,671 260,671 260.5,671" fill="none" stroke="#FF33FF" stroke-width="1.0" stroke-linejoin="round" />
<polyline points="72,620.2 72.5,620.2 73,620.2 73.5,620.2 74,620.2 74.5,620.2 75,620.2 75.5,620.2 76,620.2 76.5,620.2 77,620.2 77.5,620.2 78,620.2 78.5,620.2 79,620.2 79.5,620.2 80,620.2 80.5,620.2 81,620.2 81.5,620.2 82,620.2 82.5,620.2 83,620.2 83.5,620.2 84,620.2 84.5,620.2 85,620.2 85.5,620.2 86,620.2 86.5,620.2 87,620.2 87.5,620.2 88,620.2 88.5,620.2 89,620.2 89.5,620.2 90,620.2 90.5,620.2 91,620.2 91.5,620.2 92,620.2 92.5,620.2 93,620.2 93.5,620.2 94,620.2 94.5,620.2 95,620.2 95.5,620.2 96,620.2 96.5,620.2 97,620.2 97.5,620.2 98,620.2 98.5,620.2 99,620.2 99.5,620.2 100,620.2 100.5,620.2 101,620.2 101.5,620.2 102,620.2 102.5,620.2 103,620.2 103.5,620.2 104,620.2 104.5,620.2 105,620.2 105.5,620.2 106,620.2 106.5,620.2 107,620.2 107.5,620.2 108,620.2 108.5,620.2 109,620.2 109.5,620.2 110,620.2 110.5,620.2 111,620.2 111.5,620.2 112,620.2 112.5,620.2 113,620.2 113.5,620.2 114,620.2 114.5,620.2 115,620.2 115.5,620.2 116,620.2 116.5,620.2 117,620.2 117.5,620.3 118,620.3 118.5,620.3 119,620.3 119.5,620.3 120,620.3 120.5,620.3 121,620.4 121.5,620.4 122,620.4 122.5,620.5 123,620.5 123.5,620.6 124,620.6 124.5,620.7 125,620.8 125.5,620.9 126,620.9 126.5,621 127,621.2 127.5,621.3 128,621.4 128.5,621.6 129,621.7 129.5,621.9 130,622.1 130.5,622.3 131,622.5 131.5,622.7 132,622.9 132.5,623.2 133,623.4 133.5,623.7 134,624 134.5,624.3 135,624.6 135.5,624.9 136,625.3 136.5,625.6 137,625.9 137.5,626.3 138,626.6 138.5,627 139,627.3 139.5,627.7 140,628.1 140.5,628.4 141,628.8 141.5,629.1 142,629.4 142.5,629.8 143,630.1 143.5,630.4 144,630.7 144.5,631 145,631.3 145.5,631.5 146,631.8 146.5,632 147,632.2 147.5,632.4 148,632.6 148.5,632.8 149,633 149.5,633.1 150,633.3 150.5,633.4 151,633.5 151.5,633.7 152,633.8 152.5,633.8 153,633.9 153.5,634 154,634.1 154.5,634.1 155,634.2 155.5,634.2 156,634.3 156.5,634.3 157,634.3 157.5,634.4 158,634.4 158.5,634.4 159,634.4 159.5,634.4 160,634.4 160.5,634.4 161,634.5 161.5,634.5 162,634.5 162.5,634.5 163,634.5 163.5,634.5 164,634.5 164.5,634.5 165,634.5 165.5,634.5 166,634.5 166.5,634.5 167,634.5 167.5,634.5 168,634.5 168.5,634.5 169,634.5 169.5,634.5 170,634.5 170.5,634.5 171,634.4 171.5,634.4 172,634.4 172.5,634.4 173,634.4 173.5,634.3 174,634.3 174.5,634.3 175,634.2 175.5,634.1 176,634.1 176.5,634 177,633.8 177.5,633.7 178,633.5 178.5,633.3 179,633.1 179.5,632.9 180,632.5 180.5,632.2 181,631.8 181.5,631.3 182,630.7 182.5,630.1 183,629.4 183.5,628.6 184,627.7 184.5,626.7 185,625.5 185.5,624.3 186,622.9 186.5,621.3 187,619.6 187.5,617.8 188,615.8 188.5,613.6 189,611.2 189.5,608.7 190,606.1 190.5,603.2 191,600.3 191.5,597.2 192,593.9 192.5,590.5 193,587.1 193.5,583.5 194,579.9 194.5,576.3 195,572.6 195.5,569 196,565.5 196.5,562 197,558.6 197.5,555.5 198,552.4 198.5,549.7 199,547.1 199.5,544.9 200,542.9 200.5,541.3 201,540.1 201.5,539.2 202,538.7 202.5,538.6 203,539 203.5,539.7 204,540.9 204.5,542.4 205,544.4 205.5,546.7 206,549.4 206.5,552.5 207,555.8 207.5,559.4 208,563.3 208.5,567.4 209,571.7 209.5,576.1 210,580.7 210.5,585.3 211,589.9 211.5,594.6 212,599.3 212.5,603.9 213,608.4 213.5,612.8 214,617.1 214.5,621.3 215,625.3 215.5,629.1 216,632.7 216.5,636.2 217,639.4 217.5,642.5 218,645.3 218.5,647.9 219,650.4 219.5,652.6 220,654.7 220.5,656.6 221,658.3 221.5,659.8 222,661.2 222.5,662.5 223,663.6 223.5,664.6 224,665.5 224.5,666.2 225,666.9 225.5,667.5 226,668 226.5,668.5 227,668.9 227.5,669.2 228,669.5 228.5,669.7 229,670 229.5,670.1 230,670.3 230.5,670.4 231,670.5 231.5,670.6 232,670.7 232.5,670.7 233,670.8 233.5,670.8 234,670.9 234.5,670.9 235,670.9 235.5,670.9 236,670.9 236.5,671 237,671 237.5,671 238,671 238.5,671 239,671 239.5,671 240,671 240.5,671 241,671 241.5,671 242,671 242.5,671 243,671 243.5,671 244,671 244.5,671 245,671 245.5,671 246,671 246.5,671 247,671 247.5,671 248,671 248.5,671 249,671 249.5,671 250,671 250.5,671 251,671 251.5,671 252,671 252.5,671 253,671 253.5,671 254,671 254.5,671 255,671 255.5,671 256,671 256.5,671 257,671 257.5,671 258,671 258.5,671 259,671 259.5,671 260,671 260.5,671" fill="none" stroke="#55AA55" stroke-width="1.0" stroke-linejoin="round" />
<polyline points="72,620.7 72.3,621.2 72.8,620.8 73.3,621.1 73.9,619.9 74.5,620.1 75,618.1 75.5,619.6 76,620.8 76.5,621.8 76.9,620.7 77.4,621.5 78,623.4 78.4,621.9 78.8,623.1 79.2,624.1 79.6,622.8 80.1,624.1 80.6,622.6 81.2,623.6 81.8,623.5 82.5,623.9 82.9,624.9 83.3,626.2 83.8,623.6 84.3,623.8 84.7,624.9 85.3,623.6 85.8,625.1 86.3,625.3 86.9,624.7 87.4,625.5 88,623.8 88.5,626 89.1,624 89.6,624.8 90.1,625 90.7,625.2 91.2,626.4 91.7,625.7 92.2,625.3 92.7,626.1 93.2,627.1 93.7,625.6 94.2,625.9 94.7,626.7 95.2,625.7 95.7,624.3 96.3,627.6 96.8,627.3 97.3,623.5 97.8,625.1 98.3,625.4 98.9,625.8 99.4,625.4 100,624.5 100.5,623.6 101,624.6 101.5,625.3 102,623.2 102.5,623.1 103,623.8 103.6,621.9 104.1,623.3 104.7,622.9 105.2,623.6 105.7,622.3 106.3,622 106.8,622.2 107.3,622.4 107.8,621.6 108.3,622 108.8,622.5 109.3,622.7 109.7,623 110.1,620.6 110.5,620.8 111.2,618.7 111.9,622.4 112.5,619.8 113,620.2 113.5,620.4 113.9,618.5 114.4,619.9 114.8,619.2 115.2,617.3 115.7,618.9 116.3,619.2 116.8,616 117.4,618 117.9,617 118.4,616.4 119,615.7 119.5,615.3 120,613.9 120.5,613.3 121,611.8 121.5,611.1 122,609.3 122.5,608.3 123,607.5 123.5,605.6 124,603.9 124.5,602 125,600.3 125.5,598.8 126,597.2 126.5,595.1 127,593.2 127.5,591.3 128,590.2 128.5,587.9 129,586.2 129.5,585.2 130,583.6 130.5,582.1 131,580.9 131.5,579.9 132,579.3 132.5,578.3 133,577 133.5,576.9 134,576.3 134.5,575.5 135,576 135.5,575.7 136.1,576 136.6,576.9 137.1,577.8 137.6,577.9 138,579.2 138.5,579.9 139,582.2 139.5,583 140.2,586.6 140.6,587.6 141,590.1 141.5,592.8 142.1,593.6 142.6,596.8 143.2,599.7 143.7,602 144.3,604.3 144.9,607.6 145.4,609 145.9,610.4 146.5,613.3 147,614.3 147.5,617.2 148.1,618.4 148.6,620.4 149.1,622.4 149.6,623.6 150.2,624.5 150.7,625.8 151.2,628.1 151.8,629.1 152.3,629.6 152.9,631.2 153.4,632 153.9,632.8 154.5,632.6 155,633.9 155.4,635 155.9,635.5 156.5,636.2 156.9,635.5 157.3,636.8 157.7,637.1 158.2,637.9 158.7,636.7 159.4,636.8 159.8,636.8 160.2,636.9 160.7,636.3 161.1,636.6 161.6,635.6 162.1,635.6 162.7,635 163.2,634.9 163.8,634.3 164.3,633.6 164.9,634.2 165.5,633.5 166.2,632.9 166.8,632.9 167.2,633 167.7,632.1 168.2,632.2 168.7,632.3 169.2,632.1 169.7,631.6 170.2,630.8 170.7,631.8 171.3,631.3 171.8,631.1 172.3,630.8 172.9,630.8 173.4,630.4 173.9,630 174.4,629.9 175,629.7 175.5,629.4 175.9,629 176.4,629.4 176.9,628.4 177.3,628.8 177.9,627.8 178.5,627.8 179.1,627.6 179.7,626.7 180.3,625.9 180.8,625.6 181.3,625 181.8,623.7 182.3,623.5 182.8,623.1 183.3,622.2 183.7,621.7 184.2,621.2 184.6,620.5 185.3,619.1 185.9,617.6 186.5,615.8 187,614.3 187.5,612.5 188,610.7 188.5,608.9 189,606.4 189.5,604.8 190,602.8 190.5,600.3 191,598.3 191.5,596.1 192,593.3 192.5,591.5 193,587.1 193.5,585 194,581.2 194.5,578.8 195,575.9 195.5,570.7 196,568.2 196.5,565.1 197,561.9 197.5,559.4 198,555.6 198.5,554 199,551.3 199.5,548.8 200,546.4 200.5,544.9 201,542.8 201.5,541.7 202,540.3 202.5,538.7 203.1,538.7 203.6,538.3 204.1,538.2 204.5,537.6 205,538 205.6,538.7 206.1,539.3 206.6,540.9 207,542.8 207.5,543.9 208,546.3 208.5,550.9 209,555.4 209.6,560.1 210.1,565.2 210.6,569.9 211,574.8 211.6,584.5 212.1,593.1 212.9,602.8 213.3,607.2 213.8,612.9 214.3,617.4 214.8,621.2 215.3,625.9 215.9,630.8 216.5,634.8 217.1,639.6 217.6,642.1 218.1,644.7 218.5,648.5 219,650.7 219.6,653.6 220.1,656.1 220.6,658.4 221.2,660.8 221.8,662.4 222.4,663.7 222.9,664.6 223.3,665.7 223.8,666.6 224.3,667.5 224.7,668 225.2,668.6 225.7,668.7 226.3,668.2 226.8,668.5 227.3,667.4 227.9,669.4 228.5,670.1 229.1,670.4 229.7,670 230.1,670.1 230.6,671.2 231,670.5 231.4,671.3 231.8,671.2 232.2,671 232.7,672 233.1,670.4 233.6,670.6 234,670.3 234.5,670.3 235,672.4 235.5,672.6 236.1,671.1 236.6,671.6 237.2,672.2 237.9,671.9 238.5,672.2 239.3,670 240,670.6 240.4,671.6 240.8,672.5 241.2,671.3 241.7,670.5 242.2,671 242.6,670.7 243.1,670.5 243.7,672.7 244.2,670.8 244.7,671.4 245.3,673.3 245.9,672.4 246.4,671.7 247,670.8 247.6,671.8 248.2,672.8 248.8,672 249.4,672.5 250,671.5 250.6,671.9 251.2,671.2 251.8,671.8 252.4,672.6 252.9,670.1 253.5,671.4 254.1,671.7 254.6,670.9 255.2,671.2 255.7,672.2 256.2,673.3 256.7,672 257.2,671.8 257.6,670.1 258.1,673.2 258.5,671.5 258.9,671.5 259.3,670.5 259.6,671.4 259.9,670.5 260.2,671.6 260.5,671.9" fill="none" stroke="#333333" stroke-width="0.8" stroke-linejoin="round" />
<text x="121" y="569.6" font-family='"Liberation Serif", serif' font-size="10.5" font-weight="bold" text-anchor="start" fill="#000" textLength="24.5" lengthAdjust="spacingAndGlyphs" >Mn 2p</text>
<text x="145.8" y="571.8" font-family='"Liberation Serif", serif' font-size="6.5" font-weight="bold" text-anchor="start" fill="#000" textLength="6.5" lengthAdjust="spacingAndGlyphs" >1/2</text>
<text x="150" y="593.4" font-family='"Liberation Serif", serif' font-size="8.5" font-weight="bold" text-anchor="start" fill="#000" textLength="25.4" lengthAdjust="spacingAndGlyphs" >653.3 eV</text>
<line x1="145.4" y1="591.5" x2="133.2" y2="596.7" stroke="#000" stroke-width="0.7" />
<polygon points="133.2,596.7 136.3,593.7 137.5,596.6" fill="#000"/>
<text x="190.8" y="532.7" font-family='"Liberation Serif", serif' font-size="10.5" font-weight="bold" text-anchor="start" fill="#000" textLength="24.5" lengthAdjust="spacingAndGlyphs" >Mn 2p</text>
<text x="215.6" y="534.9" font-family='"Liberation Serif", serif' font-size="6.5" font-weight="bold" text-anchor="start" fill="#000" textLength="6.5" lengthAdjust="spacingAndGlyphs" >3/2</text>
<text x="226" y="588.7" font-family='"Liberation Serif", serif' font-size="8.5" font-weight="bold" text-anchor="start" fill="#000" textLength="26.8" lengthAdjust="spacingAndGlyphs" >641.9 eV</text>
<line x1="220.3" y1="583.5" x2="204.5" y2="591.3" stroke="#000" stroke-width="0.7" />
<polygon points="204.5,591.3 207.4,588.1 208.8,591" fill="#000"/>
<rect x="52.8" y="514.7" width="234.2" height="180.9" fill="none" stroke="#000" stroke-width="1.5"/>
<line x1="325.2" y1="697.4" x2="325.2" y2="701" stroke="#000" stroke-width="1.1" />
<line x1="364.4" y1="697.4" x2="364.4" y2="701" stroke="#000" stroke-width="1.1" />
<line x1="403.7" y1="697.4" x2="403.7" y2="701" stroke="#000" stroke-width="1.1" />
<line x1="442.9" y1="697.4" x2="442.9" y2="701" stroke="#000" stroke-width="1.1" />
<line x1="482.2" y1="697.4" x2="482.2" y2="701" stroke="#000" stroke-width="1.1" />
<line x1="521.5" y1="697.4" x2="521.5" y2="701" stroke="#000" stroke-width="1.1" />
<line x1="560.7" y1="697.4" x2="560.7" y2="701" stroke="#000" stroke-width="1.1" />
<line x1="344.8" y1="697.4" x2="344.8" y2="699.8" stroke="#000" stroke-width="1.1" />
<line x1="384.1" y1="697.4" x2="384.1" y2="699.8" stroke="#000" stroke-width="1.1" />
<line x1="423.3" y1="697.4" x2="423.3" y2="699.8" stroke="#000" stroke-width="1.1" />
<line x1="462.6" y1="697.4" x2="462.6" y2="699.8" stroke="#000" stroke-width="1.1" />
<line x1="501.8" y1="697.4" x2="501.8" y2="699.8" stroke="#000" stroke-width="1.1" />
<line x1="541.1" y1="697.4" x2="541.1" y2="699.8" stroke="#000" stroke-width="1.1" />
<text x="325.2" y="710.3" font-family='"Liberation Sans", sans-serif' font-size="10" font-weight="normal" text-anchor="middle" fill="#000" textLength="10.2" lengthAdjust="spacingAndGlyphs" >70</text>
<text x="364.4" y="710.3" font-family='"Liberation Sans", sans-serif' font-size="10" font-weight="normal" text-anchor="middle" fill="#000" textLength="10.2" lengthAdjust="spacingAndGlyphs" >75</text>
<text x="403.7" y="710.3" font-family='"Liberation Sans", sans-serif' font-size="10" font-weight="normal" text-anchor="middle" fill="#000" textLength="10.2" lengthAdjust="spacingAndGlyphs" >80</text>
<text x="442.9" y="710.3" font-family='"Liberation Sans", sans-serif' font-size="10" font-weight="normal" text-anchor="middle" fill="#000" textLength="10.2" lengthAdjust="spacingAndGlyphs" >85</text>
<text x="482.2" y="710.3" font-family='"Liberation Sans", sans-serif' font-size="10" font-weight="normal" text-anchor="middle" fill="#000" textLength="10.2" lengthAdjust="spacingAndGlyphs" >90</text>
<text x="521.5" y="710.3" font-family='"Liberation Sans", sans-serif' font-size="10" font-weight="normal" text-anchor="middle" fill="#000" textLength="10.2" lengthAdjust="spacingAndGlyphs" >95</text>
<text x="560.7" y="710.3" font-family='"Liberation Sans", sans-serif' font-size="10" font-weight="normal" text-anchor="middle" fill="#000" textLength="15.2" lengthAdjust="spacingAndGlyphs" >100</text>
<text x="400.2" y="727.6" font-family='"Liberation Serif", serif' font-size="11" font-weight="bold" text-anchor="start" fill="#000" textLength="85" lengthAdjust="spacingAndGlyphs" >Binding energy (eV)</text>
<text transform="translate(307.6,644.5) rotate(-90)" font-family='"Liberation Serif", serif' font-size="10.5" font-weight="bold" text-anchor="start" fill="#000" textLength="64.2" lengthAdjust="spacingAndGlyphs" >Intensity (a.u.)</text>
<text x="339.5" y="556.8" font-family='"Liberation Serif", serif' font-size="32" font-weight="normal" text-anchor="start" fill="#000" >e</text>
<polyline points="350,671.1 350.2,671.9 350.4,668.5 350.6,675.4 350.8,669.2 351,665.8 351.2,670.7 351.5,669 351.7,668.3 352,670.4 352.3,672.4 352.6,668 352.9,671.2 353.2,676 353.5,673.8 353.9,671.4 354.2,672.3 354.6,671.6 354.9,671.9 355.3,674.3 355.7,671.9 356.1,665.1 356.5,672.3 356.9,669.8 357.3,674.5 357.7,670.8 358.2,673.1 358.6,679.3 359.1,669.7 359.5,669.5 360,668.8 360.3,665.9 360.5,667.5 360.8,674.2 361.1,671.3 361.4,667.7 361.7,668.9 362,675.2 362.3,671.1 362.6,672.4 362.9,674.6 363.2,677.7 363.6,679.5 363.9,676.9 364.2,674.3 364.6,674.5 364.9,679.4 365.3,678.3 365.6,673.2 366,675.6 366.3,675.1 366.7,674.5 367,672.9 367.4,670.5 367.8,673 368.1,670 368.5,678.4 368.9,676.4 369.2,671.2 369.6,679.1 370,677.7 370.3,669.3 370.7,680.6 371.1,677.6 371.4,681.4 371.8,671.6 372.1,677 372.5,676.7 372.9,676.1 373.2,676 373.6,678.7 373.9,671.2 374.3,672 374.6,671.5 374.9,674.1 375.3,674 375.6,676.9 375.9,676.7 376.2,676 376.5,673.9 376.9,674.6 377.2,678.8 377.5,678.3 377.7,676.3 378,675 378.3,680.7 378.7,674.2 379.1,677.9 379.5,679.4 379.9,675.1 380.3,678.4 380.7,672.5 381.1,678.8 381.4,676.3 381.8,670.9 382.1,677.6 382.4,672.9 382.8,679.3 383.1,673.3 383.4,674.8 383.7,676 384.1,674.1 384.4,675.8 384.7,673.2 385,676.8 385.3,674.7 385.6,675.2 385.9,666.2 386.2,677.8 386.5,674.3 386.8,668.8 387.1,674.3 387.4,675.3 387.7,677 388,670.4 388.3,678.2 388.7,673 389,680.5 389.3,672.8 389.7,675.1 390,671.9 390.3,669.6 390.7,676.1 391,675.4 391.3,677.2 391.7,675.1 392,670.7 392.4,667.4 392.8,670.3 393.1,670.1 393.5,669.6 393.8,673.7 394.2,672.9 394.6,671 394.9,672.2 395.3,671.2 395.7,672.1 396,673.7 396.4,674.2 396.8,669.2 397.1,666.6 397.5,675.3 397.8,671.2 398.2,674.1 398.5,665.7 398.9,669.6 399.2,670.5 399.5,666 399.8,668.6 400.2,672.2 400.5,673.1 400.8,674.5 401.1,667 401.3,665.3 401.6,670.9 401.9,672 402.2,669.6 402.4,664.9 402.9,670.8 403.4,670.4 403.9,669.4 404.3,665.9 404.6,667.9 405,669.1 405.3,664.6 405.6,660.4 405.9,666.4 406.2,666.4 406.4,664.4 406.7,666.3 407,661.2 407.3,661.8 407.7,660.2 408,661.7 408.3,663.7 408.7,656.9 409,662.5 409.3,659.5 409.7,655.8 410,653.6 410.4,655.5 410.7,648 411.1,646.4 411.4,641.8 411.8,644.7 412.1,644.7 412.5,641.1 412.8,639.1 413.1,636 413.4,635.3 413.7,629.9 414,634.4 414.4,628.9 414.8,625.4 415.1,624.5 415.5,622.6 415.8,625 416.1,623.9 416.4,616.4 416.7,620.2 417,618.3 417.3,612.9 417.7,608.7 418,608.2 418.3,606.2 418.7,606.2 419,601.9 419.4,595.3 419.7,598 420.1,590.9 420.4,594 420.8,586.1 421.1,584.5 421.5,581.4 421.8,579.5 422.1,581.4 422.4,577.9 422.8,574 423.2,570.1 423.5,562.5 423.9,562 424.2,559 424.5,555.1 424.8,556.1 425.2,550.6 425.5,548.3 425.8,545.3 426.2,540.7 426.5,545 426.8,544.9 427.1,540.4 427.5,536.2 427.8,530.7 428.1,536.6 428.5,538.4 428.8,535.9 429.2,537.3 429.5,538.7 429.8,538.2 430.2,534.9 430.5,539.2 430.9,539.2 431.2,534.5 431.6,538.1 432,536.6 432.3,540.4 432.6,542.8 432.9,539.5 433.2,537.9 433.6,546.8 433.9,545.4 434.2,549 434.6,543.3 434.9,550.2 435.3,553.9 435.6,555.1 436,551.4 436.4,554.2 436.7,554.8 437,559.2 437.4,561.1 437.7,560.7 438,559.2 438.4,566.4 438.7,565.6 439,570.4 439.4,571.8 439.7,577.3 440.1,578.5 440.5,577 440.8,581.2 441.2,586.9 441.6,583.6 442,588.1 442.3,591.7 442.6,593.6 442.9,593.6 443.2,591 443.6,593 443.9,598.5 444.2,600.8 444.6,607.9 444.9,601.6 445.2,608.3 445.6,609.3 445.9,605.3 446.3,609.2 446.6,613.3 447,613.5 447.3,615.9 447.6,619.1 448,617.5 448.3,622 448.7,620.7 449,622.2 449.3,626 449.7,624.4 450,627.5 450.4,631.7 450.7,628.8 451.1,629.3 451.4,632.3 451.8,630.4 452.2,634.6 452.5,629.6 452.9,634.9 453.2,632.7 453.6,632.6 453.9,639.3 454.2,633.5 454.5,640.1 454.9,637.9 455.2,640.2 455.5,634.6 455.7,640.1 456,641 456.4,637.5 456.8,637.6 457.2,643.7 457.5,638 457.9,636.2 458.2,635.2 458.5,637.2 458.8,636.3 459,635.3 459.4,638.4 459.7,632.8 460,634.1 460.3,636 460.7,629.5 461,633.8 461.3,635.1 461.7,626.8 462,626.7 462.3,626.1 462.7,623.5 463,628.2 463.3,621.8 463.7,626.6 464,628 464.3,619.6 464.7,621.5 465,616.3 465.4,621.4 465.7,616.3 466,615.9 466.4,615.1 466.7,614.6 467,610.9 467.4,610.2 467.7,607.2 468,607.3 468.3,602.5 468.7,603.7 469,597.1 469.3,598.7 469.7,602.7 470,596.5 470.3,591.6 470.6,593.6 471,589.1 471.3,586 471.6,587 472,589.3 472.3,587.3 472.6,585.1 473,582 473.3,580.7 473.7,585.6 474,582.2 474.4,578.6 474.7,575.3 475,576.7 475.4,585.7 475.7,577 476,579.7 476.4,580.7 476.7,580.3 477,580.6 477.3,578.5 477.7,579.9 478,587.1 478.3,581.7 478.6,586 478.9,580.4 479.2,584.3 479.5,586.2 479.9,588.9 480.2,584.6 480.6,590 481.1,590.9 481.4,589.2 481.7,593.2 482,591.1 482.4,592.7 482.7,595.9 483.1,590.9 483.4,598.7 483.8,598.1 484.2,597.7 484.6,602.3 485,607.4 485.3,605.5 485.7,612 486,606.1 486.4,607.1 486.7,617 487.1,615 487.4,618.2 487.8,614.4 488.1,620.8 488.5,620.7 488.8,623.3 489.1,622.9 489.4,627.8 489.7,623.5 490,623.8 490.4,623.5 490.7,632.5 491,627.8 491.3,627.8 491.6,629 491.9,631.2 492.2,629.4 492.5,632.9 492.8,632.4 493.1,633.2 493.4,632.4 493.8,635.9 494.2,634.9 494.6,637.2 495.1,638.2 495.4,638.8 495.6,631.6 495.9,636.9 496.1,636.5 496.4,641.5 496.6,634.8 496.9,637.8 497.2,639.4 497.5,639.6 497.7,644 498,640 498.3,644.6 498.7,637.7 499,637 499.3,646.5 499.7,644.5 500,645 500.4,644.2 500.8,645.6 501.2,640.8 501.6,647.6 502.1,643.5 502.5,648.3 503,645.9 503.5,640 503.8,642.2 504,649.5 504.3,645.8 504.6,645.2 504.8,647.2 505.1,645.3 505.4,645 505.7,647.1 506,647.3 506.3,651.5 506.6,647.2 506.9,652.8 507.2,652.6 507.6,652.5 507.9,650.6 508.2,647.9 508.5,648 508.9,647.2 509.2,645.5 509.5,647.6 509.9,645.9 510.2,652.8 510.6,649.6 510.9,646.7 511.3,642.4 511.6,648 512,647 512.4,645.1 512.7,645 513.1,641.7 513.4,650.2 513.8,648.4 514.2,656.4 514.5,648.6 514.9,648.3 515.3,653.2 515.6,649.3 516,649.5 516.4,648 516.7,647.3 517.1,653.7 517.4,652.3 517.8,654.5 518.2,648.4 518.5,649.6 518.9,647 519.2,652.6 519.6,645.6 519.9,651.6 520.3,653.3 520.6,654.3 520.9,647.4 521.3,653.5 521.6,648.2 522,648.2 522.3,646.6 522.7,654.2 523,655.7 523.4,649.1 523.8,648.7 524.1,650.1 524.5,658.8 524.9,654.4 525.3,649.8 525.7,646.2 526,649.7 526.4,655.4 526.8,657.6 527.2,651.3 527.6,650.1 528,650.8 528.4,646.8 528.7,655.3 529.1,649.4 529.5,656 529.9,647.8 530.3,649.2 530.6,654 531,651 531.4,655.7 531.7,653.5 532.1,650.1 532.5,655.6 532.8,656.4 533.2,648.2 533.5,659.6 533.8,655.7 534.2,656.6 534.5,648.8 534.8,652.4 535.1,653.6 535.4,657.9 535.7,650.4 536,652.2 536.3,648.9 536.5,654.4 536.8,656.2 537.1,650.2 537.3,653.5 537.5,656.9 537.7,660.2 537.9,657.5 538.1,654.7 538.3,652.1 538.5,652.9" fill="none" stroke="#FF2020" stroke-width="0.8" stroke-linejoin="round" />
<line x1="428.5" y1="536" x2="428.5" y2="658.5" stroke="#666" stroke-width="1.0" />
<line x1="475" y1="581" x2="475" y2="658.5" stroke="#666" stroke-width="1.0" />
<line x1="430" y1="641.7" x2="474" y2="641.7" stroke="#333" stroke-width="0.9" />
<polygon points="429.2,641.7 434.5,639.9 434.5,643.5" fill="#222"/>
<polygon points="474.3,641.7 469,639.9 469,643.5" fill="#222"/>
<text x="437" y="655.7" font-family='"Liberation Serif", serif' font-size="11" font-weight="bold" text-anchor="start" fill="#000" textLength="28" lengthAdjust="spacingAndGlyphs" >6.2 eV</text>
<rect x="488.3" y="539.0" width="55.5" height="13.2" fill="#fff" stroke="#555" stroke-width="0.9"/>
<line x1="491" y1="546.9" x2="511" y2="546.9" stroke="#FF6060" stroke-width="1.0" />
<text x="514" y="550.6" font-family='"Liberation Serif", serif' font-size="11" font-weight="bold" text-anchor="start" fill="#000" textLength="28" lengthAdjust="spacingAndGlyphs" >Mn 3s</text>
<rect x="325.2" y="515.5" width="235.3" height="181.9" fill="none" stroke="#000" stroke-width="1.5"/>
<line x1="65.7" y1="908.6" x2="65.7" y2="912.2" stroke="#000" stroke-width="1.1" />
<line x1="104.7" y1="908.6" x2="104.7" y2="912.2" stroke="#000" stroke-width="1.1" />
<line x1="143.7" y1="908.6" x2="143.7" y2="912.2" stroke="#000" stroke-width="1.1" />
<line x1="182.7" y1="908.6" x2="182.7" y2="912.2" stroke="#000" stroke-width="1.1" />
<line x1="221.7" y1="908.6" x2="221.7" y2="912.2" stroke="#000" stroke-width="1.1" />
<line x1="260.7" y1="908.6" x2="260.7" y2="912.2" stroke="#000" stroke-width="1.1" />
<line x1="46.2" y1="908.6" x2="46.2" y2="910.8" stroke="#000" stroke-width="1.1" />
<line x1="85.2" y1="908.6" x2="85.2" y2="910.8" stroke="#000" stroke-width="1.1" />
<line x1="124.2" y1="908.6" x2="124.2" y2="910.8" stroke="#000" stroke-width="1.1" />
<line x1="163.2" y1="908.6" x2="163.2" y2="910.8" stroke="#000" stroke-width="1.1" />
<line x1="202.2" y1="908.6" x2="202.2" y2="910.8" stroke="#000" stroke-width="1.1" />
<line x1="241.2" y1="908.6" x2="241.2" y2="910.8" stroke="#000" stroke-width="1.1" />
<line x1="280.2" y1="908.6" x2="280.2" y2="910.8" stroke="#000" stroke-width="1.1" />
<line x1="42.6" y1="899.3" x2="46.2" y2="899.3" stroke="#000" stroke-width="1.1" />
<line x1="42.6" y1="880.9" x2="46.2" y2="880.9" stroke="#000" stroke-width="1.1" />
<line x1="42.6" y1="862.5" x2="46.2" y2="862.5" stroke="#000" stroke-width="1.1" />
<line x1="42.6" y1="844.1" x2="46.2" y2="844.1" stroke="#000" stroke-width="1.1" />
<line x1="42.6" y1="825.7" x2="46.2" y2="825.7" stroke="#000" stroke-width="1.1" />
<line x1="42.6" y1="807.3" x2="46.2" y2="807.3" stroke="#000" stroke-width="1.1" />
<line x1="42.6" y1="788.9" x2="46.2" y2="788.9" stroke="#000" stroke-width="1.1" />
<line x1="42.6" y1="770.5" x2="46.2" y2="770.5" stroke="#000" stroke-width="1.1" />
<line x1="42.6" y1="752.1" x2="46.2" y2="752.1" stroke="#000" stroke-width="1.1" />
<line x1="42.6" y1="733.7" x2="46.2" y2="733.7" stroke="#000" stroke-width="1.1" />
<line x1="44.2" y1="908.5" x2="46.2" y2="908.5" stroke="#000" stroke-width="1.1" />
<line x1="44.2" y1="890.1" x2="46.2" y2="890.1" stroke="#000" stroke-width="1.1" />
<line x1="44.2" y1="871.7" x2="46.2" y2="871.7" stroke="#000" stroke-width="1.1" />
<line x1="44.2" y1="853.3" x2="46.2" y2="853.3" stroke="#000" stroke-width="1.1" />
<line x1="44.2" y1="834.9" x2="46.2" y2="834.9" stroke="#000" stroke-width="1.1" />
<line x1="44.2" y1="816.5" x2="46.2" y2="816.5" stroke="#000" stroke-width="1.1" />
<line x1="44.2" y1="798.1" x2="46.2" y2="798.1" stroke="#000" stroke-width="1.1" />
<line x1="44.2" y1="779.7" x2="46.2" y2="779.7" stroke="#000" stroke-width="1.1" />
<line x1="44.2" y1="761.3" x2="46.2" y2="761.3" stroke="#000" stroke-width="1.1" />
<line x1="44.2" y1="742.9" x2="46.2" y2="742.9" stroke="#000" stroke-width="1.1" />
<text x="65.7" y="921.9" font-family='"Liberation Serif", serif' font-size="9.5" font-weight="bold" text-anchor="middle" fill="#000" >0.0</text>
<text x="104.7" y="921.9" font-family='"Liberation Serif", serif' font-size="9.5" font-weight="bold" text-anchor="middle" fill="#000" >0.2</text>
<text x="143.7" y="921.9" font-family='"Liberation Serif", serif' font-size="9.5" font-weight="bold" text-anchor="middle" fill="#000" >0.4</text>
<text x="182.7" y="921.9" font-family='"Liberation Serif", serif' font-size="9.5" font-weight="bold" text-anchor="middle" fill="#000" >0.6</text>
<text x="221.7" y="921.9" font-family='"Liberation Serif", serif' font-size="9.5" font-weight="bold" text-anchor="middle" fill="#000" >0.8</text>
<text x="260.7" y="921.9" font-family='"Liberation Serif", serif' font-size="9.5" font-weight="bold" text-anchor="middle" fill="#000" >1.0</text>
<text x="41" y="902.6" font-family='"Liberation Serif", serif' font-size="9.5" font-weight="bold" text-anchor="end" fill="#000" >0</text>
<text x="41" y="884.2" font-family='"Liberation Serif", serif' font-size="9.5" font-weight="bold" text-anchor="end" fill="#000" >20</text>
<text x="41" y="865.8" font-family='"Liberation Serif", serif' font-size="9.5" font-weight="bold" text-anchor="end" fill="#000" >40</text>
<text x="41" y="847.4" font-family='"Liberation Serif", serif' font-size="9.5" font-weight="bold" text-anchor="end" fill="#000" >60</text>
<text x="41" y="829" font-family='"Liberation Serif", serif' font-size="9.5" font-weight="bold" text-anchor="end" fill="#000" >80</text>
<text x="41" y="810.6" font-family='"Liberation Serif", serif' font-size="9.5" font-weight="bold" text-anchor="end" fill="#000" >100</text>
<text x="41" y="792.2" font-family='"Liberation Serif", serif' font-size="9.5" font-weight="bold" text-anchor="end" fill="#000" >120</text>
<text x="41" y="773.8" font-family='"Liberation Serif", serif' font-size="9.5" font-weight="bold" text-anchor="end" fill="#000" >140</text>
<text x="41" y="755.4" font-family='"Liberation Serif", serif' font-size="9.5" font-weight="bold" text-anchor="end" fill="#000" >160</text>
<text x="41" y="737" font-family='"Liberation Serif", serif' font-size="9.5" font-weight="bold" text-anchor="end" fill="#000" >180</text>
<text x="105.3" y="940.7" font-family='"Liberation Serif", serif' font-size="11.6" font-weight="bold">Relative Pressure (P/P<tspan font-size="7.5" dy="2">0</tspan><tspan dy="-2">)</tspan></text>
<text transform="translate(14.1,894) rotate(-90)" font-family='"Liberation Serif", serif' font-size="11.5" font-weight="bold">Volume Absorbed (cm<tspan font-size="7" dy="-4">3</tspan><tspan dy="4"> g</tspan><tspan font-size="7" dy="-4">-1</tspan><tspan dy="4">)</tspan></text>
<text x="56.5" y="763.5" font-family='"Liberation Serif", serif' font-size="29" font-weight="normal" text-anchor="start" fill="#000" >f</text>
<polyline points="68.1,891.9 72.3,890.1 76,889.6 78.2,889.4 81,888.7 84.5,888 88.7,887.3 92,886.9 96,886.5 100,886.2 106.6,886 120,885.2 135,884.3 153.8,881.5 163.6,881 173.4,880 182.9,879.1 193,877.3 202.2,875 211.8,872.9 221.5,869.5 225.9,867.6 231.4,863.1 236,859.6 241.1,854 246.6,842.9 251,826.6 256.2,793.3 257,784.4 259.2,760.7" fill="none" stroke="#FF8C00" stroke-width="1.4" stroke-linejoin="round" />
<rect x="66.5" y="890.3" width="3.2" height="3.2" fill="#FF8C00"/>
<rect x="70.7" y="888.5" width="3.2" height="3.2" fill="#FF8C00"/>
<rect x="74.4" y="888" width="3.2" height="3.2" fill="#FF8C00"/>
<rect x="76.6" y="887.8" width="3.2" height="3.2" fill="#FF8C00"/>
<rect x="79.4" y="887.1" width="3.2" height="3.2" fill="#FF8C00"/>
<rect x="82.9" y="886.4" width="3.2" height="3.2" fill="#FF8C00"/>
<rect x="87.1" y="885.7" width="3.2" height="3.2" fill="#FF8C00"/>
<rect x="90.4" y="885.3" width="3.2" height="3.2" fill="#FF8C00"/>
<rect x="94.4" y="884.9" width="3.2" height="3.2" fill="#FF8C00"/>
<rect x="98.4" y="884.6" width="3.2" height="3.2" fill="#FF8C00"/>
<rect x="105" y="884.4" width="3.2" height="3.2" fill="#FF8C00"/>
<rect x="118.4" y="883.6" width="3.2" height="3.2" fill="#FF8C00"/>
<rect x="133.4" y="882.7" width="3.2" height="3.2" fill="#FF8C00"/>
<rect x="152.2" y="879.9" width="3.2" height="3.2" fill="#FF8C00"/>
<rect x="162" y="879.4" width="3.2" height="3.2" fill="#FF8C00"/>
<rect x="171.8" y="878.4" width="3.2" height="3.2" fill="#FF8C00"/>
<rect x="181.3" y="877.5" width="3.2" height="3.2" fill="#FF8C00"/>
<rect x="191.4" y="875.7" width="3.2" height="3.2" fill="#FF8C00"/>
<rect x="200.6" y="873.4" width="3.2" height="3.2" fill="#FF8C00"/>
<rect x="210.2" y="871.3" width="3.2" height="3.2" fill="#FF8C00"/>
<rect x="219.9" y="867.9" width="3.2" height="3.2" fill="#FF8C00"/>
<rect x="224.3" y="866" width="3.2" height="3.2" fill="#FF8C00"/>
<rect x="229.8" y="861.5" width="3.2" height="3.2" fill="#FF8C00"/>
<rect x="234.4" y="858" width="3.2" height="3.2" fill="#FF8C00"/>
<rect x="239.5" y="852.4" width="3.2" height="3.2" fill="#FF8C00"/>
<rect x="245" y="841.3" width="3.2" height="3.2" fill="#FF8C00"/>
<rect x="249.4" y="825" width="3.2" height="3.2" fill="#FF8C00"/>
<rect x="254.6" y="791.7" width="3.2" height="3.2" fill="#FF8C00"/>
<rect x="255.4" y="782.8" width="3.2" height="3.2" fill="#FF8C00"/>
<rect x="257.6" y="759.1" width="3.2" height="3.2" fill="#FF8C00"/>
<polyline points="93.6,888 105,886.6 115.2,885.9 124.6,884.9 131.6,884.1 144,883.3 154.9,882.2 164,879.7 173.8,877.7 183.6,875.9 193.4,873.8 203.2,871.4 213.3,868.5 220.7,865.8 225.9,862.5 233.3,855.4 237.7,849 242.2,837.7 246.2,822.9 252.5,790.3 256.7,761.5 257.4,755.5 259.2,750" fill="none" stroke="#FF0000" stroke-width="1.4" stroke-linejoin="round" />
<circle cx="93.6" cy="888" r="1.9" fill="#FF0000"/>
<circle cx="105" cy="886.6" r="1.9" fill="#FF0000"/>
<circle cx="115.2" cy="885.9" r="1.9" fill="#FF0000"/>
<circle cx="124.6" cy="884.9" r="1.9" fill="#FF0000"/>
<circle cx="131.6" cy="884.1" r="1.9" fill="#FF0000"/>
<circle cx="144" cy="883.3" r="1.9" fill="#FF0000"/>
<circle cx="154.9" cy="882.2" r="1.9" fill="#FF0000"/>
<circle cx="164" cy="879.7" r="1.9" fill="#FF0000"/>
<circle cx="173.8" cy="877.7" r="1.9" fill="#FF0000"/>
<circle cx="183.6" cy="875.9" r="1.9" fill="#FF0000"/>
<circle cx="193.4" cy="873.8" r="1.9" fill="#FF0000"/>
<circle cx="203.2" cy="871.4" r="1.9" fill="#FF0000"/>
<circle cx="213.3" cy="868.5" r="1.9" fill="#FF0000"/>
<circle cx="220.7" cy="865.8" r="1.9" fill="#FF0000"/>
<circle cx="225.9" cy="862.5" r="1.9" fill="#FF0000"/>
<circle cx="233.3" cy="855.4" r="1.9" fill="#FF0000"/>
<circle cx="237.7" cy="849" r="1.9" fill="#FF0000"/>
<circle cx="242.2" cy="837.7" r="1.9" fill="#FF0000"/>
<circle cx="246.2" cy="822.9" r="1.9" fill="#FF0000"/>
<circle cx="252.5" cy="790.3" r="1.9" fill="#FF0000"/>
<circle cx="256.7" cy="761.5" r="1.9" fill="#FF0000"/>
<circle cx="257.4" cy="755.5" r="1.9" fill="#FF0000"/>
<circle cx="259.2" cy="750" r="1.9" fill="#FF0000"/>
<line x1="77.5" y1="750.7" x2="98" y2="750.7" stroke="#FF8C00" stroke-width="1.4" />
<rect x="86.0" y="749.1" width="3.2" height="3.2" fill="#FF8C00"/>
<text x="101.1" y="754.2" font-family='"Liberation Serif", serif' font-size="11.5" font-weight="bold" text-anchor="start" fill="#000" textLength="54.6" lengthAdjust="spacingAndGlyphs" >Adsorption</text>
<line x1="77.5" y1="765" x2="98" y2="765" stroke="#FF0000" stroke-width="1.4" />
<circle cx="87.6" cy="765.0" r="1.9" fill="#FF0000"/>
<text x="101.1" y="768.6" font-family='"Liberation Serif", serif' font-size="11.5" font-weight="bold" text-anchor="start" fill="#000" textLength="53" lengthAdjust="spacingAndGlyphs" >Desorption</text>
<rect x="46.2" y="733.7" width="234.2" height="174.9" fill="none" stroke="#000" stroke-width="1.5"/>
<line x1="333.6" y1="909" x2="333.6" y2="912.6" stroke="#000" stroke-width="1.1" />
<line x1="361.4" y1="909" x2="361.4" y2="912.6" stroke="#000" stroke-width="1.1" />
<line x1="389.2" y1="909" x2="389.2" y2="912.6" stroke="#000" stroke-width="1.1" />
<line x1="417" y1="909" x2="417" y2="912.6" stroke="#000" stroke-width="1.1" />
<line x1="444.8" y1="909" x2="444.8" y2="912.6" stroke="#000" stroke-width="1.1" />
<line x1="472.6" y1="909" x2="472.6" y2="912.6" stroke="#000" stroke-width="1.1" />
<line x1="500.4" y1="909" x2="500.4" y2="912.6" stroke="#000" stroke-width="1.1" />
<line x1="528.2" y1="909" x2="528.2" y2="912.6" stroke="#000" stroke-width="1.1" />
<line x1="556" y1="909" x2="556" y2="912.6" stroke="#000" stroke-width="1.1" />
<line x1="347.5" y1="909" x2="347.5" y2="911.2" stroke="#000" stroke-width="1.1" />
<line x1="375.3" y1="909" x2="375.3" y2="911.2" stroke="#000" stroke-width="1.1" />
<line x1="403.1" y1="909" x2="403.1" y2="911.2" stroke="#000" stroke-width="1.1" />
<line x1="430.9" y1="909" x2="430.9" y2="911.2" stroke="#000" stroke-width="1.1" />
<line x1="458.7" y1="909" x2="458.7" y2="911.2" stroke="#000" stroke-width="1.1" />
<line x1="486.5" y1="909" x2="486.5" y2="911.2" stroke="#000" stroke-width="1.1" />
<line x1="514.3" y1="909" x2="514.3" y2="911.2" stroke="#000" stroke-width="1.1" />
<line x1="542.1" y1="909" x2="542.1" y2="911.2" stroke="#000" stroke-width="1.1" />
<line x1="330" y1="900" x2="333.6" y2="900" stroke="#000" stroke-width="1.1" />
<line x1="330" y1="881.6" x2="333.6" y2="881.6" stroke="#000" stroke-width="1.1" />
<line x1="330" y1="863.3" x2="333.6" y2="863.3" stroke="#000" stroke-width="1.1" />
<line x1="330" y1="844.9" x2="333.6" y2="844.9" stroke="#000" stroke-width="1.1" />
<line x1="330" y1="826.5" x2="333.6" y2="826.5" stroke="#000" stroke-width="1.1" />
<line x1="330" y1="808.2" x2="333.6" y2="808.2" stroke="#000" stroke-width="1.1" />
<line x1="330" y1="789.8" x2="333.6" y2="789.8" stroke="#000" stroke-width="1.1" />
<line x1="330" y1="771.4" x2="333.6" y2="771.4" stroke="#000" stroke-width="1.1" />
<line x1="330" y1="753.1" x2="333.6" y2="753.1" stroke="#000" stroke-width="1.1" />
<line x1="330" y1="734.7" x2="333.6" y2="734.7" stroke="#000" stroke-width="1.1" />
<line x1="331.6" y1="909.2" x2="333.6" y2="909.2" stroke="#000" stroke-width="1.1" />
<line x1="331.6" y1="890.8" x2="333.6" y2="890.8" stroke="#000" stroke-width="1.1" />
<line x1="331.6" y1="872.5" x2="333.6" y2="872.5" stroke="#000" stroke-width="1.1" />
<line x1="331.6" y1="854.1" x2="333.6" y2="854.1" stroke="#000" stroke-width="1.1" />
<line x1="331.6" y1="835.7" x2="333.6" y2="835.7" stroke="#000" stroke-width="1.1" />
<line x1="331.6" y1="817.4" x2="333.6" y2="817.4" stroke="#000" stroke-width="1.1" />
<line x1="331.6" y1="799" x2="333.6" y2="799" stroke="#000" stroke-width="1.1" />
<line x1="331.6" y1="780.6" x2="333.6" y2="780.6" stroke="#000" stroke-width="1.1" />
<line x1="331.6" y1="762.3" x2="333.6" y2="762.3" stroke="#000" stroke-width="1.1" />
<line x1="331.6" y1="743.9" x2="333.6" y2="743.9" stroke="#000" stroke-width="1.1" />
<text x="333.6" y="922.6" font-family='"Liberation Serif", serif' font-size="9.5" font-weight="bold" text-anchor="middle" fill="#000" >0</text>
<text x="361.4" y="922.6" font-family='"Liberation Serif", serif' font-size="9.5" font-weight="bold" text-anchor="middle" fill="#000" >2</text>
<text x="389.2" y="922.6" font-family='"Liberation Serif", serif' font-size="9.5" font-weight="bold" text-anchor="middle" fill="#000" >4</text>
<text x="417" y="922.6" font-family='"Liberation Serif", serif' font-size="9.5" font-weight="bold" text-anchor="middle" fill="#000" >6</text>
<text x="444.8" y="922.6" font-family='"Liberation Serif", serif' font-size="9.5" font-weight="bold" text-anchor="middle" fill="#000" >8</text>
<text x="472.6" y="922.6" font-family='"Liberation Serif", serif' font-size="9.5" font-weight="bold" text-anchor="middle" fill="#000" >10</text>
<text x="500.4" y="922.6" font-family='"Liberation Serif", serif' font-size="9.5" font-weight="bold" text-anchor="middle" fill="#000" >12</text>
<text x="528.2" y="922.6" font-family='"Liberation Serif", serif' font-size="9.5" font-weight="bold" text-anchor="middle" fill="#000" >14</text>
<text x="556" y="922.6" font-family='"Liberation Serif", serif' font-size="9.5" font-weight="bold" text-anchor="middle" fill="#000" >16</text>
<text x="328.4" y="903.3" font-family='"Liberation Serif", serif' font-size="9.6" font-weight="bold" text-anchor="end" fill="#000" textLength="22.3" lengthAdjust="spacingAndGlyphs" >0.004</text>
<text x="328.4" y="884.9" font-family='"Liberation Serif", serif' font-size="9.6" font-weight="bold" text-anchor="end" fill="#000" textLength="22.3" lengthAdjust="spacingAndGlyphs" >0.006</text>
<text x="328.4" y="866.6" font-family='"Liberation Serif", serif' font-size="9.6" font-weight="bold" text-anchor="end" fill="#000" textLength="22.3" lengthAdjust="spacingAndGlyphs" >0.008</text>
<text x="328.4" y="848.2" font-family='"Liberation Serif", serif' font-size="9.6" font-weight="bold" text-anchor="end" fill="#000" textLength="22.3" lengthAdjust="spacingAndGlyphs" >0.010</text>
<text x="328.4" y="829.8" font-family='"Liberation Serif", serif' font-size="9.6" font-weight="bold" text-anchor="end" fill="#000" textLength="22.3" lengthAdjust="spacingAndGlyphs" >0.012</text>
<text x="328.4" y="811.5" font-family='"Liberation Serif", serif' font-size="9.6" font-weight="bold" text-anchor="end" fill="#000" textLength="22.3" lengthAdjust="spacingAndGlyphs" >0.014</text>
<text x="328.4" y="793.1" font-family='"Liberation Serif", serif' font-size="9.6" font-weight="bold" text-anchor="end" fill="#000" textLength="22.3" lengthAdjust="spacingAndGlyphs" >0.016</text>
<text x="328.4" y="774.7" font-family='"Liberation Serif", serif' font-size="9.6" font-weight="bold" text-anchor="end" fill="#000" textLength="22.3" lengthAdjust="spacingAndGlyphs" >0.018</text>
<text x="328.4" y="756.4" font-family='"Liberation Serif", serif' font-size="9.6" font-weight="bold" text-anchor="end" fill="#000" textLength="22.3" lengthAdjust="spacingAndGlyphs" >0.020</text>
<text x="328.4" y="738" font-family='"Liberation Serif", serif' font-size="9.6" font-weight="bold" text-anchor="end" fill="#000" textLength="22.3" lengthAdjust="spacingAndGlyphs" >0.022</text>
<text x="402.6" y="940.5" font-family='"Liberation Serif", serif' font-size="12" font-weight="bold" textLength="98.4" lengthAdjust="spacingAndGlyphs">Pore Diameter (nm)</text>
<text transform="translate(296.8,897.0) rotate(-90)" font-family='"Liberation Serif", serif' font-size="11.5" font-weight="bold">Pore Volume (cm<tspan font-size="7" dy="-4">3</tspan><tspan dy="4"> g</tspan><tspan font-size="7" dy="-4">-1</tspan><tspan dy="4"> nm</tspan><tspan font-size="7" dy="-4">-1</tspan><tspan dy="4">)</tspan></text>
<text x="350" y="759.2" font-family='"Liberation Serif", serif' font-size="28" font-weight="normal" text-anchor="start" fill="#000" >g</text>
<polyline points="361,884.1 365.2,887.1 368.6,888 371.6,893 375.4,893.9 381.3,887.1 386.9,748.3 393.1,872.7 400.7,878.7 410.5,883.4 423.6,888.7 440,892.6 460.3,894 480.9,892.6 507.5,888.6 548.7,882.6" fill="none" stroke="#FF00FF" stroke-width="1.5" stroke-linejoin="round" />
<polygon points="361,881.5 361.7,883.2 363.5,883.3 362.1,884.5 362.5,886.2 361,885.3 359.5,886.2 359.9,884.5 358.5,883.3 360.3,883.2" fill="#FF00FF"/>
<polygon points="365.2,884.5 365.9,886.2 367.7,886.3 366.3,887.5 366.7,889.2 365.2,888.3 363.7,889.2 364.1,887.5 362.7,886.3 364.5,886.2" fill="#FF00FF"/>
<polygon points="368.6,885.4 369.3,887.1 371.1,887.2 369.7,888.4 370.1,890.1 368.6,889.2 367.1,890.1 367.5,888.4 366.1,887.2 367.9,887.1" fill="#FF00FF"/>
<polygon points="371.6,890.4 372.3,892.1 374.1,892.2 372.7,893.4 373.1,895.1 371.6,894.2 370.1,895.1 370.5,893.4 369.1,892.2 370.9,892.1" fill="#FF00FF"/>
<polygon points="375.4,891.3 376.1,893 377.9,893.1 376.5,894.3 376.9,896 375.4,895.1 373.9,896 374.3,894.3 372.9,893.1 374.7,893" fill="#FF00FF"/>
<polygon points="381.3,884.5 382,886.2 383.8,886.3 382.4,887.5 382.8,889.2 381.3,888.3 379.8,889.2 380.2,887.5 378.8,886.3 380.6,886.2" fill="#FF00FF"/>
<polygon points="386.9,745.7 387.6,747.4 389.4,747.5 388,748.7 388.4,750.4 386.9,749.5 385.4,750.4 385.8,748.7 384.4,747.5 386.2,747.4" fill="#FF00FF"/>
<polygon points="393.1,870.1 393.8,871.8 395.6,871.9 394.2,873.1 394.6,874.8 393.1,873.9 391.6,874.8 392,873.1 390.6,871.9 392.4,871.8" fill="#FF00FF"/>
<polygon points="400.7,876.1 401.4,877.8 403.2,877.9 401.8,879.1 402.2,880.8 400.7,879.9 399.2,880.8 399.6,879.1 398.2,877.9 400,877.8" fill="#FF00FF"/>
<polygon points="410.5,880.8 411.2,882.5 413,882.6 411.6,883.8 412,885.5 410.5,884.6 409,885.5 409.4,883.8 408,882.6 409.8,882.5" fill="#FF00FF"/>
<polygon points="423.6,886.1 424.3,887.8 426.1,887.9 424.7,889.1 425.1,890.8 423.6,889.9 422.1,890.8 422.5,889.1 421.1,887.9 422.9,887.8" fill="#FF00FF"/>
<polygon points="440,890 440.7,891.7 442.5,891.8 441.1,893 441.5,894.7 440,893.8 438.5,894.7 438.9,893 437.5,891.8 439.3,891.7" fill="#FF00FF"/>
<polygon points="460.3,891.4 461,893.1 462.8,893.2 461.4,894.4 461.8,896.1 460.3,895.2 458.8,896.1 459.2,894.4 457.8,893.2 459.6,893.1" fill="#FF00FF"/>
<polygon points="480.9,890 481.6,891.7 483.4,891.8 482,893 482.4,894.7 480.9,893.8 479.4,894.7 479.8,893 478.4,891.8 480.2,891.7" fill="#FF00FF"/>
<polygon points="507.5,886 508.2,887.7 510,887.8 508.6,889 509,890.7 507.5,889.8 506,890.7 506.4,889 505,887.8 506.8,887.7" fill="#FF00FF"/>
<polygon points="548.7,880 549.4,881.7 551.2,881.8 549.8,883 550.2,884.7 548.7,883.8 547.2,884.7 547.6,883 546.2,881.8 548,881.7" fill="#FF00FF"/>
<rect x="333.6" y="734.8" width="235.4" height="174.2" fill="none" stroke="#000" stroke-width="1.5"/>
</svg>
</body></html>
